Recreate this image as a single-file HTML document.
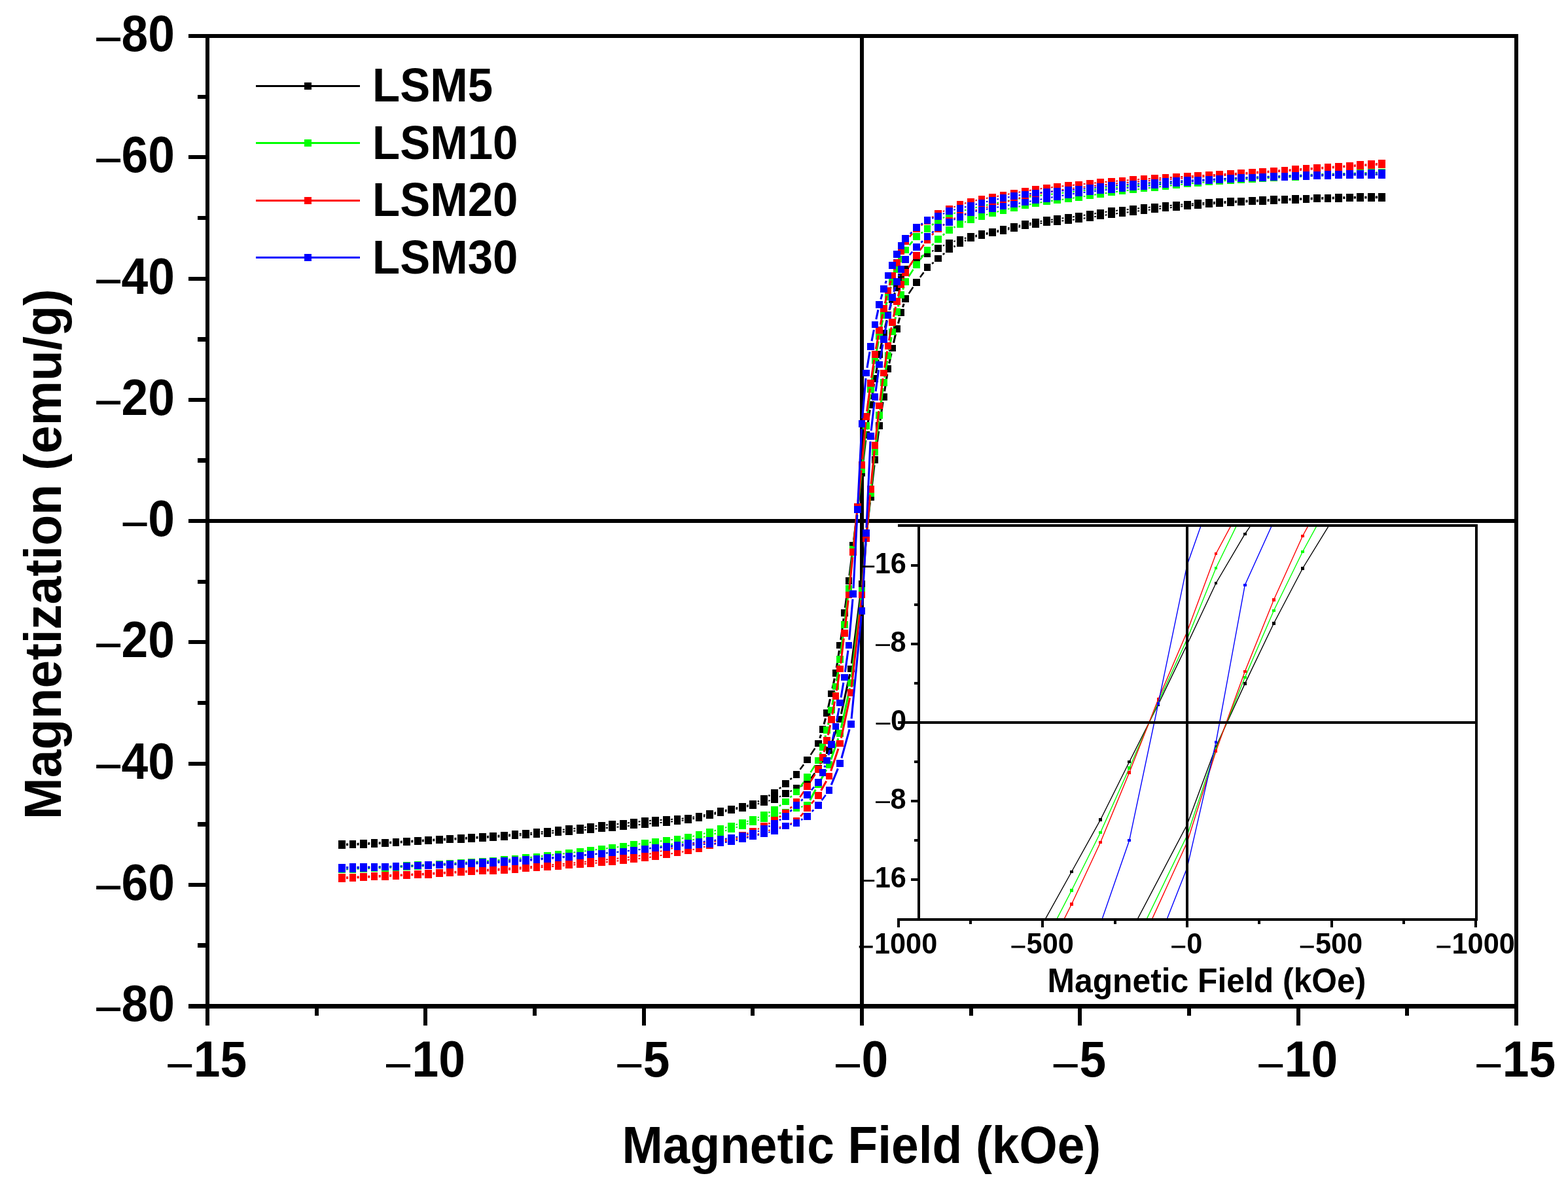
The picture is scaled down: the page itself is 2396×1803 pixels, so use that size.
<!DOCTYPE html>
<html><head><meta charset="utf-8"><title>Magnetization vs Magnetic Field</title><style>html,body{margin:0;padding:0;background:#fff;}</style></head><body>
<svg width="2396" height="1803" viewBox="0 0 2396 1803" style="display:block;font-family:'Liberation Sans', Arial, Helvetica, sans-serif">
<style>rect{shape-rendering:crispEdges}</style>
<rect width="2396" height="1803" fill="#fff"/>
<rect x="1314" y="52" width="6" height="1489" fill="#000"/>
<rect x="314" y="793" width="2006" height="6" fill="#000"/>
<rect x="288" y="52" width="2032" height="6" fill="#000"/>
<rect x="288" y="1534" width="2032" height="7" fill="#000"/>
<rect x="314" y="52" width="6" height="1515" fill="#000"/>
<rect x="2314" y="52" width="6" height="1515" fill="#000"/>
<rect x="288" y="1534.0" width="30" height="6" fill="#000"/>
<rect x="302" y="1441.4" width="16" height="6.5" fill="#000"/>
<rect x="288" y="1348.8" width="30" height="6" fill="#000"/>
<rect x="302" y="1256.1" width="16" height="6.5" fill="#000"/>
<rect x="288" y="1163.5" width="30" height="6" fill="#000"/>
<rect x="302" y="1070.9" width="16" height="6.5" fill="#000"/>
<rect x="288" y="978.2" width="30" height="6" fill="#000"/>
<rect x="302" y="885.6" width="16" height="6.5" fill="#000"/>
<rect x="288" y="793.0" width="30" height="6" fill="#000"/>
<rect x="302" y="700.4" width="16" height="6.5" fill="#000"/>
<rect x="288" y="607.8" width="30" height="6" fill="#000"/>
<rect x="302" y="515.1" width="16" height="6.5" fill="#000"/>
<rect x="288" y="422.5" width="30" height="6" fill="#000"/>
<rect x="302" y="329.9" width="16" height="6.5" fill="#000"/>
<rect x="288" y="237.2" width="30" height="6" fill="#000"/>
<rect x="302" y="144.6" width="16" height="6.5" fill="#000"/>
<rect x="288" y="52.0" width="30" height="6" fill="#000"/>
<rect x="314.0" y="1536" width="6" height="31" fill="#000"/>
<rect x="480.7" y="1536" width="6" height="16" fill="#000"/>
<rect x="647.3" y="1536" width="6" height="31" fill="#000"/>
<rect x="814.0" y="1536" width="6" height="16" fill="#000"/>
<rect x="980.7" y="1536" width="6" height="31" fill="#000"/>
<rect x="1147.3" y="1536" width="6" height="16" fill="#000"/>
<rect x="1314.0" y="1536" width="6" height="31" fill="#000"/>
<rect x="1480.7" y="1536" width="6" height="16" fill="#000"/>
<rect x="1647.3" y="1536" width="6" height="31" fill="#000"/>
<rect x="1814.0" y="1536" width="6" height="16" fill="#000"/>
<rect x="1980.7" y="1536" width="6" height="31" fill="#000"/>
<rect x="2147.3" y="1536" width="6" height="16" fill="#000"/>
<rect x="2314.0" y="1536" width="6" height="31" fill="#000"/>
<path d="M2105.1,300.5L2101.7,300.5M2088.5,300.7L2085.2,300.7M2072.0,300.9L2068.7,301.0M2055.4,301.2L2052.2,301.3M2038.9,301.6L2035.6,301.7M2022.4,302.1L2019.1,302.2M2005.8,302.6L2002.6,302.7M1989.3,303.2L1986.1,303.3M1972.7,303.8L1969.5,303.9M1956.2,304.4L1953.0,304.5M1939.7,305.1L1936.5,305.2M1923.1,305.8L1919.9,305.9M1906.6,306.5L1903.4,306.6M1890.1,307.3L1886.9,307.4M1873.5,308.1L1870.4,308.3M1857.0,309.0L1853.8,309.2M1840.4,310.0L1837.3,310.2M1823.9,311.2L1820.8,311.4M1807.3,312.4L1804.3,312.6M1790.8,313.7L1787.7,314.0M1774.3,315.1L1771.2,315.4M1757.7,316.6L1754.7,316.9M1741.2,318.2L1738.2,318.5M1724.6,319.9L1721.6,320.2M1708.1,321.6L1705.1,322.0M1691.5,323.6L1688.6,324.0M1675.0,326.0L1672.1,326.4M1658.4,328.6L1655.6,329.0M1641.9,331.0L1639.0,331.4M1625.4,333.2L1622.5,333.6M1608.9,335.4L1605.9,335.8M1592.3,337.8L1589.4,338.3M1575.7,340.7L1572.9,341.2M1559.2,344.2L1556.5,344.8M1542.6,348.0L1539.9,348.6M1526.1,351.9L1523.4,352.6M1509.6,355.7L1506.8,356.3M1493.0,359.4L1490.3,360.0M1476.4,363.5L1473.8,364.3M1459.9,368.2L1457.3,368.9M1443.2,374.4L1440.8,375.6M1426.6,382.7L1424.1,384.0M1409.9,390.7L1407.4,391.8M1143.7,1230.3L1141.0,1231.0M1127.2,1234.1L1124.4,1234.6M1110.6,1237.5L1107.9,1238.1M1094.1,1241.3L1091.4,1241.9M1077.6,1245.0L1074.8,1245.5M1061.1,1248.2L1058.2,1248.7M1044.7,1250.4L1041.6,1250.7M1028.2,1251.7L1025.0,1251.9M1011.6,1252.7L1008.5,1252.9M995.1,1253.8L992.0,1254.0M978.5,1255.2L975.5,1255.5M962.0,1257.0L959.0,1257.4M945.4,1258.9L942.4,1259.2M928.9,1260.3L925.9,1260.6M912.4,1261.9L909.4,1262.3M895.8,1263.8L892.8,1264.2M879.3,1265.7L876.3,1266.0M862.8,1267.5L859.8,1267.8M846.2,1269.2L843.2,1269.6M829.7,1270.9L826.7,1271.2M813.2,1272.4L810.1,1272.7M796.7,1273.8L793.6,1274.1M780.1,1275.2L777.1,1275.4M763.6,1276.5L760.5,1276.8M747.1,1277.7L744.0,1277.9M730.6,1278.7L727.4,1278.9M714.0,1279.7L710.9,1279.9M697.5,1280.7L694.4,1280.9M681.0,1281.6L677.8,1281.8M664.4,1282.5L661.3,1282.7M647.9,1283.5L644.8,1283.7M631.4,1284.6L628.2,1284.8M614.8,1285.6L611.7,1285.7M598.3,1286.5L595.1,1286.7M581.8,1287.3L578.6,1287.5M565.3,1288.1L562.1,1288.3M548.7,1288.8L545.5,1288.9M532.2,1289.4L529.0,1289.5M529.0,1291.3L532.2,1291.2M545.5,1290.7L548.7,1290.6M562.1,1290.0L565.3,1289.8M578.6,1289.2L581.8,1289.0M595.1,1288.3L598.3,1288.2M611.7,1287.4L614.8,1287.2M628.2,1286.4L631.4,1286.2M644.8,1285.4L647.9,1285.2M661.3,1284.4L664.4,1284.3M677.8,1283.6L681.0,1283.4M694.4,1282.6L697.5,1282.5M710.9,1281.7L714.0,1281.5M727.4,1280.8L730.6,1280.6M744.0,1279.8L747.1,1279.6M760.5,1278.7L763.6,1278.5M777.0,1277.6L780.1,1277.3M793.6,1276.4L796.7,1276.2M810.1,1275.3L813.2,1275.0M826.7,1274.0L829.7,1273.8M843.2,1272.7L846.3,1272.5M859.7,1271.3L862.8,1271.0M876.3,1269.8L879.3,1269.5M892.8,1268.2L895.8,1267.9M909.4,1266.6L912.4,1266.2M925.8,1265.1L929.0,1264.9M942.4,1263.8L945.5,1263.6M959.0,1262.2L962.0,1261.8M975.5,1260.2L978.5,1259.9M992.0,1258.5L995.1,1258.2M1008.5,1257.0L1011.6,1256.7M1025.1,1255.5L1028.1,1255.2M1041.6,1253.8L1044.6,1253.4M1058.3,1251.3L1061.1,1250.8M1074.8,1247.8L1077.5,1247.2M1091.4,1244.0L1094.1,1243.4M1107.9,1240.1L1110.6,1239.4M1124.4,1236.3L1127.2,1235.7M1141.0,1232.6L1143.7,1232.0M1157.6,1228.5L1160.2,1227.7M1174.1,1223.8L1176.7,1223.1M1190.8,1217.6L1193.2,1216.4M1207.4,1209.3L1209.9,1208.0M1224.1,1201.3L1226.6,1200.2M1490.3,361.7L1493.0,361.0M1506.8,357.9L1509.6,357.4M1523.4,354.5L1526.1,353.9M1539.9,350.7L1542.6,350.1M1556.4,347.0L1559.2,346.5M1572.9,343.8L1575.8,343.3M1589.4,341.3L1592.3,340.9M1605.9,339.3L1608.9,339.0M1622.4,337.6L1625.4,337.3M1639.0,335.9L1642.0,335.5M1655.6,333.7L1658.5,333.3M1672.1,331.2L1675.0,330.7M1688.6,328.7L1691.5,328.3M1705.1,326.5L1708.1,326.1M1721.6,324.5L1724.6,324.2M1738.2,322.6L1741.2,322.3M1754.7,320.7L1757.7,320.4M1771.2,318.9L1774.2,318.6M1787.8,317.2L1790.8,316.9M1804.3,315.6L1807.3,315.3M1820.8,314.0L1823.9,313.8M1837.3,312.6L1840.4,312.4M1853.8,311.4L1857.0,311.1M1870.4,310.3L1873.5,310.1M1886.9,309.3L1890.1,309.1M1903.4,308.5L1906.6,308.3M1919.9,307.7L1923.1,307.6M1936.5,307.0L1939.7,306.9M1953.0,306.3L1956.2,306.2M1969.5,305.6L1972.7,305.5M1986.1,305.0L1989.3,304.8M2002.6,304.4L2005.8,304.3M2019.1,303.8L2022.4,303.7M2035.6,303.4L2038.9,303.3M2052.2,303.0L2055.4,302.9M2068.7,302.7L2072.0,302.6M2085.2,302.5L2088.5,302.4M2101.7,302.3L2105.1,302.3" fill="none" stroke="#000000" stroke-width="2.0"/>
<path d="M1393.3,402.0L1390.7,404.6M1245.3,1143.4L1238.7,1153.4M1228.1,1168.3L1222.5,1175.8M1209.9,1189.1L1207.4,1191.1M1193.2,1203.0L1190.8,1205.0M1176.5,1215.0L1174.3,1216.2M1160.0,1223.8L1157.7,1225.0M1239.0,1189.6L1245.0,1181.3M1388.7,448.6L1395.3,438.6M1405.9,423.7L1411.5,416.2M1424.1,402.9L1426.6,400.9M1440.8,389.0L1443.2,387.0M1457.5,377.0L1459.7,375.8M1474.0,368.2L1476.3,367.0" fill="none" stroke="#000000" stroke-width="2.6"/>
<path d="M1367.5,447.3L1366.5,450.0M1361.4,465.9L1359.3,473.0M1355.1,489.2L1352.3,500.8M1348.7,517.0L1345.3,533.2M1342.2,549.4L1338.5,570.2M1335.6,586.5L1331.7,610.0M1329.2,626.3L1324.8,656.3M1322.7,672.6L1317.9,714.2M1316.0,730.5L1311.3,770.7M1309.3,787.0L1304.7,824.9M1302.7,841.2L1298.0,879.5M1295.9,895.9L1291.4,928.6M1289.2,945.0L1284.8,977.7M1282.4,994.0L1278.3,1020.3M1275.3,1036.6L1272.0,1051.9M1268.5,1068.1L1265.5,1081.5M1261.5,1097.7L1259.1,1106.6M1254.5,1122.6L1252.8,1127.9M1254.9,1166.3L1262.4,1153.7M1269.8,1138.2L1280.9,1106.8M1285.4,1090.8L1298.6,1030.1M1301.4,1013.8L1316.0,900.5M1317.7,884.1L1322.9,826.9M1324.6,810.5L1329.4,767.5M1331.3,751.2L1336.0,710.6M1338.0,694.3L1342.6,658.7M1344.9,642.4L1349.1,614.3M1351.6,598.0L1355.7,571.7M1358.7,555.4L1362.0,540.1M1365.5,523.9L1368.5,510.5M1372.5,494.3L1374.9,485.4M1379.5,469.4L1381.2,464.1" fill="none" stroke="#000000" stroke-width="3.1"/>
<g fill="#000000"><rect x="2106.3" y="295.1" width="10.8" height="10.8"/><rect x="2089.7" y="295.2" width="10.8" height="10.8"/><rect x="2073.2" y="295.4" width="10.8" height="10.8"/><rect x="2056.7" y="295.7" width="10.8" height="10.8"/><rect x="2040.1" y="296.0" width="10.8" height="10.8"/><rect x="2023.6" y="296.5" width="10.8" height="10.8"/><rect x="2007.1" y="297.0" width="10.8" height="10.8"/><rect x="1990.5" y="297.5" width="10.8" height="10.8"/><rect x="1974.0" y="298.1" width="10.8" height="10.8"/><rect x="1957.5" y="298.7" width="10.8" height="10.8"/><rect x="1940.9" y="299.4" width="10.8" height="10.8"/><rect x="1924.4" y="300.1" width="10.8" height="10.8"/><rect x="1907.9" y="300.8" width="10.8" height="10.8"/><rect x="1891.3" y="301.5" width="10.8" height="10.8"/><rect x="1874.8" y="302.3" width="10.8" height="10.8"/><rect x="1858.3" y="303.2" width="10.8" height="10.8"/><rect x="1841.7" y="304.2" width="10.8" height="10.8"/><rect x="1825.2" y="305.3" width="10.8" height="10.8"/><rect x="1808.7" y="306.5" width="10.8" height="10.8"/><rect x="1792.1" y="307.8" width="10.8" height="10.8"/><rect x="1775.6" y="309.1" width="10.8" height="10.8"/><rect x="1759.1" y="310.6" width="10.8" height="10.8"/><rect x="1742.5" y="312.2" width="10.8" height="10.8"/><rect x="1726.0" y="313.8" width="10.8" height="10.8"/><rect x="1709.5" y="315.5" width="10.8" height="10.8"/><rect x="1692.9" y="317.3" width="10.8" height="10.8"/><rect x="1676.4" y="319.5" width="10.8" height="10.8"/><rect x="1659.9" y="322.1" width="10.8" height="10.8"/><rect x="1643.3" y="324.7" width="10.8" height="10.8"/><rect x="1626.8" y="327.0" width="10.8" height="10.8"/><rect x="1610.3" y="329.1" width="10.8" height="10.8"/><rect x="1593.7" y="331.4" width="10.8" height="10.8"/><rect x="1577.2" y="334.0" width="10.8" height="10.8"/><rect x="1560.7" y="337.2" width="10.8" height="10.8"/><rect x="1544.1" y="340.9" width="10.8" height="10.8"/><rect x="1527.6" y="344.9" width="10.8" height="10.8"/><rect x="1511.1" y="348.8" width="10.8" height="10.8"/><rect x="1494.5" y="352.4" width="10.8" height="10.8"/><rect x="1478.0" y="356.2" width="10.8" height="10.8"/><rect x="1461.5" y="360.8" width="10.8" height="10.8"/><rect x="1444.9" y="365.5" width="10.8" height="10.8"/><rect x="1428.3" y="373.8" width="10.8" height="10.8"/><rect x="1411.6" y="382.1" width="10.8" height="10.8"/><rect x="1394.9" y="389.5" width="10.8" height="10.8"/><rect x="1378.3" y="406.2" width="10.8" height="10.8"/><rect x="1371.6" y="418.2" width="10.8" height="10.8"/><rect x="1364.9" y="434.0" width="10.8" height="10.8"/><rect x="1358.3" y="452.5" width="10.8" height="10.8"/><rect x="1351.6" y="475.7" width="10.8" height="10.8"/><rect x="1344.9" y="503.5" width="10.8" height="10.8"/><rect x="1338.3" y="535.9" width="10.8" height="10.8"/><rect x="1331.6" y="572.9" width="10.8" height="10.8"/><rect x="1324.9" y="612.8" width="10.8" height="10.8"/><rect x="1318.3" y="659.1" width="10.8" height="10.8"/><rect x="1311.6" y="717.0" width="10.8" height="10.8"/><rect x="1304.9" y="773.5" width="10.8" height="10.8"/><rect x="1298.3" y="827.6" width="10.8" height="10.8"/><rect x="1291.6" y="882.3" width="10.8" height="10.8"/><rect x="1284.9" y="931.4" width="10.8" height="10.8"/><rect x="1278.3" y="980.5" width="10.8" height="10.8"/><rect x="1271.6" y="1023.1" width="10.8" height="10.8"/><rect x="1264.9" y="1054.6" width="10.8" height="10.8"/><rect x="1258.3" y="1084.2" width="10.8" height="10.8"/><rect x="1251.6" y="1109.2" width="10.8" height="10.8"/><rect x="1244.9" y="1130.5" width="10.8" height="10.8"/><rect x="1228.3" y="1155.5" width="10.8" height="10.8"/><rect x="1211.6" y="1177.8" width="10.8" height="10.8"/><rect x="1194.9" y="1191.7" width="10.8" height="10.8"/><rect x="1178.3" y="1205.6" width="10.8" height="10.8"/><rect x="1161.7" y="1214.8" width="10.8" height="10.8"/><rect x="1145.2" y="1223.2" width="10.8" height="10.8"/><rect x="1128.7" y="1227.3" width="10.8" height="10.8"/><rect x="1112.1" y="1230.6" width="10.8" height="10.8"/><rect x="1095.6" y="1234.3" width="10.8" height="10.8"/><rect x="1079.1" y="1238.1" width="10.8" height="10.8"/><rect x="1062.5" y="1241.6" width="10.8" height="10.8"/><rect x="1046.0" y="1244.5" width="10.8" height="10.8"/><rect x="1029.5" y="1245.9" width="10.8" height="10.8"/><rect x="1012.9" y="1246.9" width="10.8" height="10.8"/><rect x="996.4" y="1247.9" width="10.8" height="10.8"/><rect x="979.9" y="1249.1" width="10.8" height="10.8"/><rect x="963.3" y="1250.8" width="10.8" height="10.8"/><rect x="946.8" y="1252.8" width="10.8" height="10.8"/><rect x="930.3" y="1254.4" width="10.8" height="10.8"/><rect x="913.7" y="1255.7" width="10.8" height="10.8"/><rect x="897.2" y="1257.7" width="10.8" height="10.8"/><rect x="880.7" y="1259.6" width="10.8" height="10.8"/><rect x="864.1" y="1261.4" width="10.8" height="10.8"/><rect x="847.6" y="1263.2" width="10.8" height="10.8"/><rect x="831.1" y="1264.8" width="10.8" height="10.8"/><rect x="814.5" y="1266.4" width="10.8" height="10.8"/><rect x="798.0" y="1267.9" width="10.8" height="10.8"/><rect x="781.5" y="1269.2" width="10.8" height="10.8"/><rect x="764.9" y="1270.6" width="10.8" height="10.8"/><rect x="748.4" y="1271.9" width="10.8" height="10.8"/><rect x="731.9" y="1272.9" width="10.8" height="10.8"/><rect x="715.3" y="1273.9" width="10.8" height="10.8"/><rect x="698.8" y="1274.9" width="10.8" height="10.8"/><rect x="682.3" y="1275.9" width="10.8" height="10.8"/><rect x="665.7" y="1276.8" width="10.8" height="10.8"/><rect x="649.2" y="1277.7" width="10.8" height="10.8"/><rect x="632.7" y="1278.8" width="10.8" height="10.8"/><rect x="616.1" y="1279.8" width="10.8" height="10.8"/><rect x="599.6" y="1280.7" width="10.8" height="10.8"/><rect x="583.1" y="1281.6" width="10.8" height="10.8"/><rect x="566.5" y="1282.4" width="10.8" height="10.8"/><rect x="550.0" y="1283.1" width="10.8" height="10.8"/><rect x="533.5" y="1283.8" width="10.8" height="10.8"/><rect x="516.9" y="1284.3" width="10.8" height="10.8"/><rect x="516.9" y="1286.1" width="10.8" height="10.8"/><rect x="533.5" y="1285.6" width="10.8" height="10.8"/><rect x="550.0" y="1284.9" width="10.8" height="10.8"/><rect x="566.5" y="1284.1" width="10.8" height="10.8"/><rect x="583.1" y="1283.3" width="10.8" height="10.8"/><rect x="599.6" y="1282.4" width="10.8" height="10.8"/><rect x="616.1" y="1281.4" width="10.8" height="10.8"/><rect x="632.7" y="1280.4" width="10.8" height="10.8"/><rect x="649.2" y="1279.4" width="10.8" height="10.8"/><rect x="665.7" y="1278.5" width="10.8" height="10.8"/><rect x="682.3" y="1277.6" width="10.8" height="10.8"/><rect x="698.8" y="1276.7" width="10.8" height="10.8"/><rect x="715.3" y="1275.8" width="10.8" height="10.8"/><rect x="731.9" y="1274.8" width="10.8" height="10.8"/><rect x="748.4" y="1273.8" width="10.8" height="10.8"/><rect x="764.9" y="1272.7" width="10.8" height="10.8"/><rect x="781.5" y="1271.4" width="10.8" height="10.8"/><rect x="798.0" y="1270.4" width="10.8" height="10.8"/><rect x="814.5" y="1269.2" width="10.8" height="10.8"/><rect x="831.1" y="1267.9" width="10.8" height="10.8"/><rect x="847.6" y="1266.5" width="10.8" height="10.8"/><rect x="864.1" y="1265.0" width="10.8" height="10.8"/><rect x="880.7" y="1263.5" width="10.8" height="10.8"/><rect x="897.2" y="1261.9" width="10.8" height="10.8"/><rect x="913.7" y="1260.1" width="10.8" height="10.8"/><rect x="930.3" y="1259.1" width="10.8" height="10.8"/><rect x="946.8" y="1257.5" width="10.8" height="10.8"/><rect x="963.3" y="1255.6" width="10.8" height="10.8"/><rect x="979.9" y="1253.7" width="10.8" height="10.8"/><rect x="996.4" y="1252.2" width="10.8" height="10.8"/><rect x="1012.9" y="1250.7" width="10.8" height="10.8"/><rect x="1029.5" y="1249.1" width="10.8" height="10.8"/><rect x="1046.0" y="1247.2" width="10.8" height="10.8"/><rect x="1062.5" y="1244.0" width="10.8" height="10.8"/><rect x="1079.1" y="1240.3" width="10.8" height="10.8"/><rect x="1095.6" y="1236.3" width="10.8" height="10.8"/><rect x="1112.1" y="1232.4" width="10.8" height="10.8"/><rect x="1128.7" y="1228.8" width="10.8" height="10.8"/><rect x="1145.2" y="1225.0" width="10.8" height="10.8"/><rect x="1161.7" y="1220.4" width="10.8" height="10.8"/><rect x="1178.3" y="1215.7" width="10.8" height="10.8"/><rect x="1194.9" y="1207.4" width="10.8" height="10.8"/><rect x="1211.6" y="1199.1" width="10.8" height="10.8"/><rect x="1228.3" y="1191.7" width="10.8" height="10.8"/><rect x="1244.9" y="1168.5" width="10.8" height="10.8"/><rect x="1261.6" y="1140.7" width="10.8" height="10.8"/><rect x="1278.3" y="1093.5" width="10.8" height="10.8"/><rect x="1294.9" y="1016.6" width="10.8" height="10.8"/><rect x="1311.6" y="886.9" width="10.8" height="10.8"/><rect x="1318.3" y="813.3" width="10.8" height="10.8"/><rect x="1324.9" y="753.9" width="10.8" height="10.8"/><rect x="1331.6" y="697.0" width="10.8" height="10.8"/><rect x="1338.3" y="645.2" width="10.8" height="10.8"/><rect x="1344.9" y="600.7" width="10.8" height="10.8"/><rect x="1351.6" y="558.1" width="10.8" height="10.8"/><rect x="1358.3" y="526.6" width="10.8" height="10.8"/><rect x="1364.9" y="497.0" width="10.8" height="10.8"/><rect x="1371.6" y="472.0" width="10.8" height="10.8"/><rect x="1378.3" y="450.7" width="10.8" height="10.8"/><rect x="1394.9" y="425.7" width="10.8" height="10.8"/><rect x="1411.6" y="403.4" width="10.8" height="10.8"/><rect x="1428.3" y="389.5" width="10.8" height="10.8"/><rect x="1444.9" y="375.6" width="10.8" height="10.8"/><rect x="1461.5" y="366.4" width="10.8" height="10.8"/><rect x="1478.0" y="358.0" width="10.8" height="10.8"/><rect x="1494.5" y="353.9" width="10.8" height="10.8"/><rect x="1511.1" y="350.6" width="10.8" height="10.8"/><rect x="1527.6" y="346.9" width="10.8" height="10.8"/><rect x="1544.1" y="343.1" width="10.8" height="10.8"/><rect x="1560.7" y="339.6" width="10.8" height="10.8"/><rect x="1577.2" y="336.7" width="10.8" height="10.8"/><rect x="1593.7" y="334.6" width="10.8" height="10.8"/><rect x="1610.3" y="332.9" width="10.8" height="10.8"/><rect x="1626.8" y="331.2" width="10.8" height="10.8"/><rect x="1643.3" y="329.3" width="10.8" height="10.8"/><rect x="1659.9" y="326.9" width="10.8" height="10.8"/><rect x="1676.4" y="324.3" width="10.8" height="10.8"/><rect x="1692.9" y="321.9" width="10.8" height="10.8"/><rect x="1709.5" y="319.9" width="10.8" height="10.8"/><rect x="1726.0" y="318.0" width="10.8" height="10.8"/><rect x="1742.5" y="316.1" width="10.8" height="10.8"/><rect x="1759.1" y="314.2" width="10.8" height="10.8"/><rect x="1775.6" y="312.5" width="10.8" height="10.8"/><rect x="1792.1" y="310.8" width="10.8" height="10.8"/><rect x="1808.7" y="309.2" width="10.8" height="10.8"/><rect x="1825.2" y="307.8" width="10.8" height="10.8"/><rect x="1841.7" y="306.4" width="10.8" height="10.8"/><rect x="1858.3" y="305.3" width="10.8" height="10.8"/><rect x="1874.8" y="304.2" width="10.8" height="10.8"/><rect x="1891.3" y="303.4" width="10.8" height="10.8"/><rect x="1907.9" y="302.6" width="10.8" height="10.8"/><rect x="1924.4" y="301.9" width="10.8" height="10.8"/><rect x="1940.9" y="301.2" width="10.8" height="10.8"/><rect x="1957.5" y="300.5" width="10.8" height="10.8"/><rect x="1974.0" y="299.8" width="10.8" height="10.8"/><rect x="1990.5" y="299.2" width="10.8" height="10.8"/><rect x="2007.1" y="298.6" width="10.8" height="10.8"/><rect x="2023.6" y="298.2" width="10.8" height="10.8"/><rect x="2040.1" y="297.7" width="10.8" height="10.8"/><rect x="2056.7" y="297.4" width="10.8" height="10.8"/><rect x="2073.2" y="297.1" width="10.8" height="10.8"/><rect x="2089.7" y="297.0" width="10.8" height="10.8"/><rect x="2106.3" y="296.9" width="10.8" height="10.8"/></g>
<path d="M2105.0,263.6L2101.8,263.6M2088.5,263.9L2085.2,264.0M2072.0,264.4L2068.7,264.5M2055.4,264.9L2052.2,265.0M2038.9,265.4L2035.7,265.5M2022.3,266.0L2019.1,266.2M2005.8,266.7L2002.6,266.8M1989.3,267.4L1986.1,267.5M1972.7,268.1L1969.5,268.2M1956.2,268.8L1953.0,269.0M1939.7,269.6L1936.5,269.8M1923.1,270.4L1919.9,270.6M1906.6,271.2L1903.4,271.4M1890.1,272.1L1886.9,272.3M1873.5,273.0L1870.4,273.2M1857.0,274.0L1853.8,274.2M1840.4,275.1L1837.3,275.3M1823.9,276.2L1820.8,276.4M1807.4,277.4L1804.3,277.6M1790.8,278.6L1787.7,278.9M1774.3,279.9L1771.2,280.2M1757.7,281.3L1754.7,281.6M1741.2,282.7L1738.1,283.0M1724.7,284.2L1721.6,284.4M1708.1,285.7L1705.1,285.9M1691.6,287.3L1688.6,287.6M1675.0,289.1L1672.0,289.4M1658.5,291.0L1655.5,291.3M1642.0,292.8L1639.0,293.2M1625.4,294.6L1622.4,294.9M1608.9,296.4L1605.9,296.7M1592.3,298.3L1589.4,298.7M1575.8,300.6L1572.9,301.0M1559.2,303.3L1556.4,303.8M1542.7,306.4L1539.9,306.9M1526.1,309.6L1523.4,310.2M1509.6,313.0L1506.8,313.6M1493.0,316.7L1490.3,317.4M1476.5,320.7L1473.8,321.4M1459.9,325.3L1457.3,326.1M1443.2,331.8L1440.8,333.0M1160.1,1248.4L1157.7,1249.4M1143.6,1254.4L1141.1,1255.2M1127.1,1259.4L1124.5,1260.0M1110.5,1264.0L1108.0,1264.8M1094.0,1268.8L1091.4,1269.5M1077.5,1273.2L1074.9,1273.9M1061.0,1277.3L1058.3,1277.9M1044.6,1280.5L1041.7,1281.0M1028.1,1282.9L1025.1,1283.3M1011.5,1285.0L1008.6,1285.3M995.0,1287.0L992.1,1287.4M978.4,1289.3L975.5,1289.7M961.9,1291.7L959.0,1292.2M945.4,1294.1L942.5,1294.5M928.9,1296.1L925.9,1296.5M912.3,1298.1L909.4,1298.5M895.8,1300.2L892.9,1300.6M879.3,1302.3L876.3,1302.6M862.8,1304.2L859.8,1304.6M846.2,1306.1L843.2,1306.5M829.7,1307.9L826.7,1308.3M813.2,1309.7L810.1,1310.0M796.7,1311.3L793.6,1311.5M780.1,1312.7L777.1,1313.0M763.6,1314.1L760.5,1314.3M747.1,1315.3L744.0,1315.5M730.6,1316.4L727.4,1316.6M714.0,1317.4L710.9,1317.6M697.5,1318.4L694.4,1318.6M681.0,1319.4L677.8,1319.6M664.4,1320.4L661.3,1320.5M647.9,1321.2L644.7,1321.4M631.4,1322.1L628.2,1322.3M614.9,1322.9L611.7,1323.0M598.3,1323.6L595.1,1323.7M581.8,1324.2L578.6,1324.4M565.3,1324.8L562.0,1324.9M548.8,1325.3L545.5,1325.3M532.2,1325.6L529.0,1325.7M529.0,1328.4L532.2,1328.3M545.5,1327.8L548.7,1327.7M562.1,1327.2L565.3,1327.1M578.6,1326.5L581.8,1326.4M595.1,1325.8L598.3,1325.7M611.7,1325.0L614.9,1324.9M628.2,1324.2L631.4,1324.0M644.7,1323.4L647.9,1323.2M661.3,1322.5L664.4,1322.3M677.8,1321.5L681.0,1321.4M694.4,1320.6L697.5,1320.4M710.9,1319.6L714.0,1319.4M727.4,1318.6L730.6,1318.4M744.0,1317.6L747.1,1317.4M760.5,1316.5L763.6,1316.3M777.0,1315.3L780.2,1315.1M793.6,1314.2L796.7,1313.9M810.1,1313.0L813.2,1312.8M826.6,1311.8L829.7,1311.6M843.2,1310.6L846.3,1310.4M859.7,1309.3L862.8,1309.0M876.3,1307.9L879.3,1307.7M892.8,1306.5L895.9,1306.3M909.3,1305.1L912.4,1304.8M925.9,1303.6L928.9,1303.3M942.4,1302.0L945.4,1301.6M959.0,1300.2L962.0,1299.8M975.5,1298.2L978.5,1297.9M992.1,1295.9L994.9,1295.4M1008.7,1293.0L1011.5,1292.5M1025.2,1290.1L1028.0,1289.6M1041.7,1287.0L1044.5,1286.4M1058.3,1283.3L1061.0,1282.6M1074.9,1279.0L1077.5,1278.3M1091.4,1274.3L1094.0,1273.5M1108.0,1269.4L1110.5,1268.6M1124.5,1264.4L1127.1,1263.6M1141.1,1259.1L1143.6,1258.2M1157.6,1253.4L1160.1,1252.6M1174.2,1247.2L1176.6,1246.3M1190.4,1242.6L1193.6,1242.3M1207.4,1238.8L1209.9,1237.8M1224.0,1233.1L1226.7,1232.3M1473.9,339.6L1476.3,338.6M1490.4,333.3L1492.9,332.5M1506.9,328.1L1509.5,327.4M1523.4,323.7L1526.1,323.0M1539.9,319.6L1542.6,318.9M1556.4,315.8L1559.2,315.2M1572.9,312.5L1575.7,311.9M1589.4,309.6L1592.3,309.1M1605.9,307.1L1608.9,306.7M1622.5,304.9L1625.4,304.5M1639.0,302.7L1641.9,302.3M1655.6,300.3L1658.4,299.9M1672.1,297.8L1675.0,297.3M1688.6,295.3L1691.5,294.9M1705.1,293.1L1708.1,292.8M1721.7,291.1L1724.6,290.8M1738.2,289.2L1741.2,288.8M1754.7,287.2L1757.7,286.9M1771.2,285.4L1774.2,285.0M1787.8,283.6L1790.8,283.3M1804.3,281.9L1807.3,281.6M1820.8,280.3L1823.9,280.0M1837.3,278.8L1840.4,278.5M1853.9,277.4L1856.9,277.2M1870.4,276.2L1873.5,276.0M1886.9,275.1L1890.0,274.9M1903.4,274.1L1906.6,274.0M1920.0,273.2L1923.1,273.1M1936.5,272.3L1939.7,272.2M1953.0,271.5L1956.2,271.3M1969.5,270.7L1972.7,270.5M1986.1,269.9L1989.3,269.7M2002.6,269.1L2005.8,269.0M2019.1,268.5L2022.3,268.3M2035.7,267.9L2038.9,267.8M2052.2,267.3L2055.4,267.2M2068.7,266.9L2072.0,266.8M2085.2,266.5L2088.5,266.5M2101.8,266.3L2105.1,266.3" fill="none" stroke="#00ff00" stroke-width="2.0"/>
<path d="M1426.5,342.1L1424.1,344.0M1409.9,354.7L1407.5,356.4M1394.4,368.9L1389.6,374.7M1245.5,1169.4L1238.5,1180.3M1228.1,1195.2L1222.5,1202.6M1209.9,1216.3L1207.4,1218.5M1193.2,1230.0L1190.8,1231.7M1176.5,1240.6L1174.3,1241.8M1388.5,422.6L1395.5,411.7M1405.9,396.8L1411.5,389.4M1424.0,374.9L1426.6,372.3M1440.8,359.4L1443.2,357.3M1457.5,347.6L1459.7,346.3" fill="none" stroke="#00ff00" stroke-width="2.6"/>
<path d="M1367.5,419.6L1366.5,422.2M1361.4,438.2L1359.3,445.3M1355.1,461.4L1352.3,473.0M1348.7,489.2L1345.3,505.4M1342.2,521.6L1338.5,542.4M1335.8,558.7L1331.6,585.9M1329.4,602.2L1324.6,641.9M1322.9,658.3L1317.8,709.1M1316.1,725.4L1311.3,768.4M1309.5,784.7L1304.5,830.7M1302.8,847.1L1297.9,891.6M1296.0,907.9L1291.3,946.2M1289.3,962.6L1284.7,999.0M1282.4,1015.3L1278.3,1040.7M1275.5,1057.0L1271.8,1076.9M1268.6,1093.1L1265.4,1107.5M1261.6,1123.6L1259.1,1133.4M1254.4,1149.5L1252.9,1153.9M1237.7,1222.7L1246.3,1206.6M1254.5,1191.2L1262.8,1176.0M1269.8,1160.4L1280.9,1128.2M1285.4,1112.1L1298.6,1051.4M1301.3,1035.1L1316.0,910.7M1317.7,894.3L1323.0,829.2M1324.5,812.8L1329.5,761.6M1331.2,745.2L1336.1,698.6M1338.0,682.2L1342.7,643.0M1344.8,626.7L1349.2,593.0M1351.6,576.7L1355.7,551.3M1358.5,535.0L1362.2,515.1M1365.4,498.9L1368.6,484.5M1372.4,468.4L1374.9,458.6M1379.6,442.5L1381.1,438.1" fill="none" stroke="#00ff00" stroke-width="3.1"/>
<g fill="#00ff00"><rect x="2106.3" y="258.0" width="10.8" height="10.8"/><rect x="2089.7" y="258.4" width="10.8" height="10.8"/><rect x="2073.2" y="258.8" width="10.8" height="10.8"/><rect x="2056.7" y="259.3" width="10.8" height="10.8"/><rect x="2040.1" y="259.8" width="10.8" height="10.8"/><rect x="2023.6" y="260.4" width="10.8" height="10.8"/><rect x="2007.1" y="261.0" width="10.8" height="10.8"/><rect x="1990.5" y="261.7" width="10.8" height="10.8"/><rect x="1974.0" y="262.4" width="10.8" height="10.8"/><rect x="1957.5" y="263.1" width="10.8" height="10.8"/><rect x="1940.9" y="263.9" width="10.8" height="10.8"/><rect x="1924.4" y="264.7" width="10.8" height="10.8"/><rect x="1907.9" y="265.5" width="10.8" height="10.8"/><rect x="1891.3" y="266.3" width="10.8" height="10.8"/><rect x="1874.8" y="267.2" width="10.8" height="10.8"/><rect x="1858.3" y="268.2" width="10.8" height="10.8"/><rect x="1841.7" y="269.2" width="10.8" height="10.8"/><rect x="1825.2" y="270.3" width="10.8" height="10.8"/><rect x="1808.7" y="271.5" width="10.8" height="10.8"/><rect x="1792.1" y="272.7" width="10.8" height="10.8"/><rect x="1775.6" y="274.0" width="10.8" height="10.8"/><rect x="1759.1" y="275.3" width="10.8" height="10.8"/><rect x="1742.5" y="276.7" width="10.8" height="10.8"/><rect x="1726.0" y="278.2" width="10.8" height="10.8"/><rect x="1709.5" y="279.6" width="10.8" height="10.8"/><rect x="1692.9" y="281.2" width="10.8" height="10.8"/><rect x="1676.4" y="282.9" width="10.8" height="10.8"/><rect x="1659.9" y="284.8" width="10.8" height="10.8"/><rect x="1643.3" y="286.7" width="10.8" height="10.8"/><rect x="1626.8" y="288.5" width="10.8" height="10.8"/><rect x="1610.3" y="290.2" width="10.8" height="10.8"/><rect x="1593.7" y="292.0" width="10.8" height="10.8"/><rect x="1577.2" y="294.1" width="10.8" height="10.8"/><rect x="1560.7" y="296.7" width="10.8" height="10.8"/><rect x="1544.1" y="299.6" width="10.8" height="10.8"/><rect x="1527.6" y="302.8" width="10.8" height="10.8"/><rect x="1511.1" y="306.2" width="10.8" height="10.8"/><rect x="1494.5" y="309.7" width="10.8" height="10.8"/><rect x="1478.0" y="313.6" width="10.8" height="10.8"/><rect x="1461.5" y="317.7" width="10.8" height="10.8"/><rect x="1444.9" y="322.8" width="10.8" height="10.8"/><rect x="1428.3" y="331.2" width="10.8" height="10.8"/><rect x="1411.6" y="344.1" width="10.8" height="10.8"/><rect x="1394.9" y="356.2" width="10.8" height="10.8"/><rect x="1378.3" y="376.6" width="10.8" height="10.8"/><rect x="1371.6" y="390.5" width="10.8" height="10.8"/><rect x="1364.9" y="406.2" width="10.8" height="10.8"/><rect x="1358.3" y="424.7" width="10.8" height="10.8"/><rect x="1351.6" y="447.9" width="10.8" height="10.8"/><rect x="1344.9" y="475.7" width="10.8" height="10.8"/><rect x="1338.3" y="508.1" width="10.8" height="10.8"/><rect x="1331.6" y="545.1" width="10.8" height="10.8"/><rect x="1324.9" y="588.7" width="10.8" height="10.8"/><rect x="1318.3" y="644.7" width="10.8" height="10.8"/><rect x="1311.6" y="711.9" width="10.8" height="10.8"/><rect x="1304.9" y="771.1" width="10.8" height="10.8"/><rect x="1298.3" y="833.5" width="10.8" height="10.8"/><rect x="1291.6" y="894.3" width="10.8" height="10.8"/><rect x="1284.9" y="949.0" width="10.8" height="10.8"/><rect x="1278.3" y="1001.8" width="10.8" height="10.8"/><rect x="1271.6" y="1043.5" width="10.8" height="10.8"/><rect x="1264.9" y="1079.6" width="10.8" height="10.8"/><rect x="1258.3" y="1110.2" width="10.8" height="10.8"/><rect x="1251.6" y="1136.1" width="10.8" height="10.8"/><rect x="1244.9" y="1156.5" width="10.8" height="10.8"/><rect x="1228.3" y="1182.4" width="10.8" height="10.8"/><rect x="1211.6" y="1204.6" width="10.8" height="10.8"/><rect x="1194.9" y="1219.5" width="10.8" height="10.8"/><rect x="1178.3" y="1231.5" width="10.8" height="10.8"/><rect x="1161.7" y="1240.2" width="10.8" height="10.8"/><rect x="1145.2" y="1246.8" width="10.8" height="10.8"/><rect x="1128.7" y="1252.1" width="10.8" height="10.8"/><rect x="1112.1" y="1256.5" width="10.8" height="10.8"/><rect x="1095.6" y="1261.4" width="10.8" height="10.8"/><rect x="1079.1" y="1266.1" width="10.8" height="10.8"/><rect x="1062.5" y="1270.3" width="10.8" height="10.8"/><rect x="1046.0" y="1274.1" width="10.8" height="10.8"/><rect x="1029.5" y="1276.6" width="10.8" height="10.8"/><rect x="1012.9" y="1278.7" width="10.8" height="10.8"/><rect x="996.4" y="1280.8" width="10.8" height="10.8"/><rect x="979.9" y="1282.9" width="10.8" height="10.8"/><rect x="963.3" y="1285.3" width="10.8" height="10.8"/><rect x="946.8" y="1287.8" width="10.8" height="10.8"/><rect x="930.3" y="1290.0" width="10.8" height="10.8"/><rect x="913.7" y="1291.9" width="10.8" height="10.8"/><rect x="897.2" y="1294.0" width="10.8" height="10.8"/><rect x="880.7" y="1296.0" width="10.8" height="10.8"/><rect x="864.1" y="1298.0" width="10.8" height="10.8"/><rect x="847.6" y="1300.0" width="10.8" height="10.8"/><rect x="831.1" y="1301.8" width="10.8" height="10.8"/><rect x="814.5" y="1303.6" width="10.8" height="10.8"/><rect x="798.0" y="1305.2" width="10.8" height="10.8"/><rect x="781.5" y="1306.8" width="10.8" height="10.8"/><rect x="764.9" y="1308.2" width="10.8" height="10.8"/><rect x="748.4" y="1309.5" width="10.8" height="10.8"/><rect x="731.9" y="1310.6" width="10.8" height="10.8"/><rect x="715.3" y="1311.6" width="10.8" height="10.8"/><rect x="698.8" y="1312.6" width="10.8" height="10.8"/><rect x="682.3" y="1313.6" width="10.8" height="10.8"/><rect x="665.7" y="1314.6" width="10.8" height="10.8"/><rect x="649.2" y="1315.5" width="10.8" height="10.8"/><rect x="632.7" y="1316.4" width="10.8" height="10.8"/><rect x="616.1" y="1317.2" width="10.8" height="10.8"/><rect x="599.6" y="1317.9" width="10.8" height="10.8"/><rect x="583.1" y="1318.6" width="10.8" height="10.8"/><rect x="566.5" y="1319.2" width="10.8" height="10.8"/><rect x="550.0" y="1319.7" width="10.8" height="10.8"/><rect x="533.5" y="1320.1" width="10.8" height="10.8"/><rect x="516.9" y="1320.4" width="10.8" height="10.8"/><rect x="516.9" y="1323.2" width="10.8" height="10.8"/><rect x="533.5" y="1322.7" width="10.8" height="10.8"/><rect x="550.0" y="1322.1" width="10.8" height="10.8"/><rect x="566.5" y="1321.4" width="10.8" height="10.8"/><rect x="583.1" y="1320.7" width="10.8" height="10.8"/><rect x="599.6" y="1319.9" width="10.8" height="10.8"/><rect x="616.1" y="1319.1" width="10.8" height="10.8"/><rect x="632.7" y="1318.3" width="10.8" height="10.8"/><rect x="649.2" y="1317.4" width="10.8" height="10.8"/><rect x="665.7" y="1316.5" width="10.8" height="10.8"/><rect x="682.3" y="1315.6" width="10.8" height="10.8"/><rect x="698.8" y="1314.6" width="10.8" height="10.8"/><rect x="715.3" y="1313.6" width="10.8" height="10.8"/><rect x="731.9" y="1312.6" width="10.8" height="10.8"/><rect x="748.4" y="1311.5" width="10.8" height="10.8"/><rect x="764.9" y="1310.4" width="10.8" height="10.8"/><rect x="781.5" y="1309.2" width="10.8" height="10.8"/><rect x="798.0" y="1308.1" width="10.8" height="10.8"/><rect x="814.5" y="1306.9" width="10.8" height="10.8"/><rect x="831.1" y="1305.7" width="10.8" height="10.8"/><rect x="847.6" y="1304.4" width="10.8" height="10.8"/><rect x="864.1" y="1303.1" width="10.8" height="10.8"/><rect x="880.7" y="1301.7" width="10.8" height="10.8"/><rect x="897.2" y="1300.3" width="10.8" height="10.8"/><rect x="913.7" y="1298.8" width="10.8" height="10.8"/><rect x="930.3" y="1297.3" width="10.8" height="10.8"/><rect x="946.8" y="1295.5" width="10.8" height="10.8"/><rect x="963.3" y="1293.6" width="10.8" height="10.8"/><rect x="979.9" y="1291.7" width="10.8" height="10.8"/><rect x="996.4" y="1288.8" width="10.8" height="10.8"/><rect x="1012.9" y="1285.9" width="10.8" height="10.8"/><rect x="1029.5" y="1282.9" width="10.8" height="10.8"/><rect x="1046.0" y="1279.7" width="10.8" height="10.8"/><rect x="1062.5" y="1275.5" width="10.8" height="10.8"/><rect x="1079.1" y="1270.9" width="10.8" height="10.8"/><rect x="1095.6" y="1266.1" width="10.8" height="10.8"/><rect x="1112.1" y="1261.1" width="10.8" height="10.8"/><rect x="1128.7" y="1256.0" width="10.8" height="10.8"/><rect x="1145.2" y="1250.5" width="10.8" height="10.8"/><rect x="1161.7" y="1244.7" width="10.8" height="10.8"/><rect x="1178.3" y="1238.0" width="10.8" height="10.8"/><rect x="1194.9" y="1236.1" width="10.8" height="10.8"/><rect x="1211.6" y="1229.6" width="10.8" height="10.8"/><rect x="1228.3" y="1225.0" width="10.8" height="10.8"/><rect x="1244.9" y="1193.5" width="10.8" height="10.8"/><rect x="1261.6" y="1163.0" width="10.8" height="10.8"/><rect x="1278.3" y="1114.8" width="10.8" height="10.8"/><rect x="1294.9" y="1037.9" width="10.8" height="10.8"/><rect x="1311.6" y="897.1" width="10.8" height="10.8"/><rect x="1318.3" y="815.6" width="10.8" height="10.8"/><rect x="1324.9" y="748.0" width="10.8" height="10.8"/><rect x="1331.6" y="685.0" width="10.8" height="10.8"/><rect x="1338.3" y="629.4" width="10.8" height="10.8"/><rect x="1344.9" y="579.4" width="10.8" height="10.8"/><rect x="1351.6" y="537.7" width="10.8" height="10.8"/><rect x="1358.3" y="501.6" width="10.8" height="10.8"/><rect x="1364.9" y="471.0" width="10.8" height="10.8"/><rect x="1371.6" y="445.1" width="10.8" height="10.8"/><rect x="1378.3" y="424.7" width="10.8" height="10.8"/><rect x="1394.9" y="398.8" width="10.8" height="10.8"/><rect x="1411.6" y="376.6" width="10.8" height="10.8"/><rect x="1428.3" y="359.9" width="10.8" height="10.8"/><rect x="1444.9" y="346.0" width="10.8" height="10.8"/><rect x="1461.5" y="337.1" width="10.8" height="10.8"/><rect x="1478.0" y="330.3" width="10.8" height="10.8"/><rect x="1494.5" y="324.7" width="10.8" height="10.8"/><rect x="1511.1" y="320.1" width="10.8" height="10.8"/><rect x="1527.6" y="315.8" width="10.8" height="10.8"/><rect x="1544.1" y="311.9" width="10.8" height="10.8"/><rect x="1560.7" y="308.3" width="10.8" height="10.8"/><rect x="1577.2" y="305.2" width="10.8" height="10.8"/><rect x="1593.7" y="302.6" width="10.8" height="10.8"/><rect x="1610.3" y="300.4" width="10.8" height="10.8"/><rect x="1626.8" y="298.2" width="10.8" height="10.8"/><rect x="1643.3" y="296.0" width="10.8" height="10.8"/><rect x="1659.9" y="293.5" width="10.8" height="10.8"/><rect x="1676.4" y="290.9" width="10.8" height="10.8"/><rect x="1692.9" y="288.6" width="10.8" height="10.8"/><rect x="1709.5" y="286.5" width="10.8" height="10.8"/><rect x="1726.0" y="284.6" width="10.8" height="10.8"/><rect x="1742.5" y="282.6" width="10.8" height="10.8"/><rect x="1759.1" y="280.7" width="10.8" height="10.8"/><rect x="1775.6" y="278.9" width="10.8" height="10.8"/><rect x="1792.1" y="277.2" width="10.8" height="10.8"/><rect x="1808.7" y="275.5" width="10.8" height="10.8"/><rect x="1825.2" y="274.0" width="10.8" height="10.8"/><rect x="1841.7" y="272.6" width="10.8" height="10.8"/><rect x="1858.3" y="271.3" width="10.8" height="10.8"/><rect x="1874.8" y="270.1" width="10.8" height="10.8"/><rect x="1891.3" y="269.1" width="10.8" height="10.8"/><rect x="1907.9" y="268.2" width="10.8" height="10.8"/><rect x="1924.4" y="267.3" width="10.8" height="10.8"/><rect x="1940.9" y="266.4" width="10.8" height="10.8"/><rect x="1957.5" y="265.6" width="10.8" height="10.8"/><rect x="1974.0" y="264.8" width="10.8" height="10.8"/><rect x="1990.5" y="264.0" width="10.8" height="10.8"/><rect x="2007.1" y="263.3" width="10.8" height="10.8"/><rect x="2023.6" y="262.7" width="10.8" height="10.8"/><rect x="2040.1" y="262.1" width="10.8" height="10.8"/><rect x="2056.7" y="261.7" width="10.8" height="10.8"/><rect x="2073.2" y="261.3" width="10.8" height="10.8"/><rect x="2089.7" y="261.0" width="10.8" height="10.8"/><rect x="2106.3" y="260.8" width="10.8" height="10.8"/></g>
<path d="M2105.0,250.0L2101.8,250.2M2088.4,251.2L2085.3,251.4M2071.9,252.3L2068.8,252.5M2055.4,253.5L2052.2,253.7M2038.8,254.6L2035.7,254.8M2022.3,255.8L2019.2,256.0M2005.8,256.9L2002.6,257.1M1989.2,258.1L1986.1,258.3M1972.7,259.2L1969.6,259.4M1956.2,260.3L1953.0,260.5M1939.6,261.4L1936.5,261.7M1923.1,262.6L1920.0,262.8M1906.6,263.7L1903.4,263.9M1890.0,264.8L1886.9,265.0M1873.5,265.8L1870.4,266.0M1857.0,266.9L1853.8,267.1M1840.4,267.9L1837.3,268.1M1823.9,268.9L1820.8,269.1M1807.4,269.9L1804.2,270.1M1790.8,270.9L1787.7,271.1M1774.3,272.0L1771.2,272.2M1757.8,273.0L1754.6,273.2M1741.2,274.1L1738.1,274.4M1724.7,275.3L1721.6,275.5M1708.1,276.5L1705.1,276.8M1691.6,277.9L1688.5,278.1M1675.1,279.4L1672.0,279.6M1658.5,281.0L1655.5,281.3M1642.0,282.6L1639.0,282.9M1625.4,284.3L1622.4,284.6M1608.9,286.1L1605.9,286.4M1592.3,288.1L1589.4,288.5M1575.8,290.4L1572.9,290.9M1559.2,293.2L1556.4,293.7M1542.7,296.3L1539.9,296.8M1526.1,299.5L1523.3,300.0M1509.6,302.6L1506.8,303.1M1493.0,305.8L1490.3,306.4M1476.4,310.0L1473.9,310.7M1459.8,315.5L1457.4,316.4M1443.2,322.1L1440.8,323.2M1160.0,1266.0L1157.7,1267.0M1143.5,1272.9L1141.1,1273.8M1127.0,1279.0L1124.6,1279.8M1110.7,1283.2L1107.8,1283.5M1094.2,1285.3L1091.3,1285.7M1077.7,1287.4L1074.7,1287.7M1061.2,1289.0L1058.1,1289.2M1044.4,1291.6L1041.8,1292.4M1027.9,1296.1L1025.3,1296.8M1011.4,1300.2L1008.7,1300.9M994.9,1304.2L992.2,1304.8M978.5,1307.3L975.5,1307.7M961.9,1309.5L959.0,1309.9M945.4,1311.5L942.4,1311.8M928.9,1313.3L925.9,1313.6M912.4,1315.0L909.3,1315.3M895.9,1316.6L892.8,1316.9M879.3,1318.2L876.3,1318.5M862.8,1319.7L859.7,1319.9M846.3,1321.1L843.2,1321.4M829.7,1322.5L826.7,1322.8M813.2,1323.9L810.1,1324.2M796.7,1325.3L793.6,1325.5M780.2,1326.5L777.0,1326.7M763.6,1327.5L760.5,1327.7M747.1,1328.5L744.0,1328.7M730.6,1329.6L727.4,1329.8M714.0,1330.7L710.9,1330.9M697.5,1331.7L694.4,1331.9M681.0,1332.8L677.8,1333.0M664.4,1333.8L661.3,1334.0M647.9,1334.8L644.7,1334.9M631.4,1335.6L628.2,1335.7M614.9,1336.4L611.7,1336.5M598.3,1337.1L595.1,1337.3M581.8,1337.9L578.6,1338.1M565.3,1338.7L562.1,1338.8M548.7,1339.4L545.5,1339.6M532.2,1340.2L529.0,1340.3M529.0,1342.2L532.2,1342.0M545.5,1341.3L548.7,1341.2M562.1,1340.5L565.3,1340.4M578.6,1339.7L581.8,1339.6M595.1,1338.9L598.3,1338.8M611.7,1338.1L614.9,1338.0M628.2,1337.3L631.4,1337.2M644.7,1336.5L647.9,1336.4M661.3,1335.6L664.4,1335.4M677.8,1334.6L681.0,1334.4M694.4,1333.6L697.5,1333.4M710.9,1332.6L714.0,1332.4M727.4,1331.6L730.6,1331.4M744.0,1330.6L747.1,1330.4M760.5,1329.7L763.6,1329.5M777.0,1328.8L780.2,1328.6M793.6,1327.7L796.7,1327.5M810.1,1326.5L813.2,1326.2M826.6,1325.2L829.7,1325.0M843.2,1324.0L846.3,1323.8M859.7,1322.7L862.8,1322.5M876.3,1321.4L879.3,1321.2M892.8,1320.1L895.9,1319.8M909.3,1318.7L912.4,1318.4M925.9,1317.2L928.9,1316.9M942.4,1315.6L945.4,1315.3M959.0,1313.9L962.0,1313.6M975.5,1312.1L978.5,1311.8M992.1,1309.9L995.0,1309.5M1008.6,1307.3L1011.5,1306.8M1025.2,1304.6L1028.0,1304.1M1041.7,1301.7L1044.5,1301.2M1058.3,1298.3L1061.0,1297.7M1074.9,1294.4L1077.5,1293.7M1091.4,1290.1L1094.0,1289.4M1108.0,1285.7L1110.6,1285.0M1124.4,1282.0L1127.2,1281.5M1141.0,1278.8L1143.7,1278.2M1157.6,1274.6L1160.1,1273.9M1174.2,1269.1L1176.6,1268.2M1190.6,1264.1L1193.4,1263.4M1207.4,1258.8L1209.9,1257.6M1457.4,334.1L1459.8,333.0M1473.9,327.1L1476.4,326.2M1490.4,321.5L1492.9,320.8M1506.9,316.9L1509.5,316.2M1523.4,312.4L1526.0,311.6M1540.0,307.7L1542.6,306.9M1556.5,303.0L1559.1,302.3M1573.0,298.9L1575.7,298.3M1589.5,295.5L1592.3,295.0M1606.0,292.7L1608.8,292.2M1622.5,290.1L1625.4,289.7M1639.0,287.8L1641.9,287.5M1655.5,285.7L1658.5,285.4M1672.0,283.8L1675.0,283.4M1688.6,282.0L1691.6,281.7M1705.1,280.4L1708.1,280.1M1721.6,278.9L1724.7,278.7M1738.1,277.5L1741.2,277.3M1754.7,276.2L1757.7,276.0M1771.2,275.0L1774.3,274.7M1787.7,273.8L1790.8,273.5M1804.2,272.6L1807.4,272.4M1820.8,271.4L1823.9,271.2M1837.3,270.3L1840.4,270.1M1853.8,269.2L1857.0,269.0M1870.4,268.0L1873.5,267.8M1886.9,266.9L1890.0,266.7M1903.4,265.7L1906.6,265.5M1920.0,264.5L1923.1,264.3M1936.5,263.4L1939.6,263.1M1953.0,262.2L1956.2,262.0M1969.6,261.0L1972.7,260.8M1986.1,259.9L1989.2,259.7M2002.6,258.7L2005.8,258.5M2019.2,257.6L2022.3,257.4M2035.7,256.5L2038.8,256.2M2052.2,255.3L2055.4,255.1M2068.8,254.2L2071.9,254.0M2085.3,253.1L2088.4,252.9M2101.8,252.0L2105.0,251.8" fill="none" stroke="#ff0000" stroke-width="2.0"/>
<path d="M1426.5,331.2L1424.1,332.7M1409.9,342.7L1407.5,344.4M1394.1,356.8L1389.9,361.8M1245.5,1183.3L1238.5,1194.2M1228.5,1209.2L1222.2,1218.3M1209.9,1232.6L1207.4,1235.1M1193.2,1246.9L1190.8,1248.6M1176.5,1257.5L1174.3,1258.8M1223.2,1247.3L1227.5,1242.3M1239.9,1227.8L1244.1,1222.8M1388.5,408.7L1395.5,397.8M1405.5,382.8L1411.8,373.7M1424.0,359.2L1426.6,356.6M1440.8,344.4L1443.2,342.7" fill="none" stroke="#ff0000" stroke-width="2.6"/>
<path d="M1374.0,391.7L1373.3,393.5M1367.6,409.4L1366.4,412.9M1361.4,428.9L1359.3,436.0M1355.1,452.1L1352.3,463.7M1348.7,479.9L1345.3,496.1M1342.2,512.4L1338.5,533.2M1335.8,549.4L1331.6,577.6M1329.3,593.9L1324.7,628.5M1322.9,644.9L1317.7,702.1M1316.1,718.5L1311.2,765.9M1309.5,782.2L1304.5,835.0M1302.8,851.3L1297.8,900.8M1296.1,917.2L1291.3,959.2M1289.3,975.5L1284.7,1013.8M1282.4,1030.2L1278.3,1055.5M1275.5,1071.8L1271.8,1091.7M1268.6,1107.9L1265.4,1123.2M1261.6,1139.4L1259.1,1149.2M1254.1,1165.2L1253.2,1167.8M1254.6,1207.9L1262.7,1193.6M1269.7,1178.0L1281.0,1143.9M1285.4,1127.8L1298.6,1066.2M1301.2,1050.0L1316.1,917.2M1317.6,900.8L1323.0,831.0M1324.4,814.7L1329.6,756.0M1331.1,739.7L1336.2,688.4M1337.9,672.0L1342.8,628.2M1344.8,611.9L1349.2,578.2M1351.6,561.8L1355.7,536.5M1358.5,520.2L1362.2,500.3M1365.4,484.1L1368.6,468.8M1372.4,452.6L1374.9,442.8M1379.9,426.8L1380.8,424.2" fill="none" stroke="#ff0000" stroke-width="3.1"/>
<g fill="#ff0000"><rect x="2106.3" y="244.1" width="10.8" height="10.8"/><rect x="2089.7" y="245.3" width="10.8" height="10.8"/><rect x="2073.2" y="246.4" width="10.8" height="10.8"/><rect x="2056.7" y="247.6" width="10.8" height="10.8"/><rect x="2040.1" y="248.8" width="10.8" height="10.8"/><rect x="2023.6" y="249.9" width="10.8" height="10.8"/><rect x="2007.1" y="251.1" width="10.8" height="10.8"/><rect x="1990.5" y="252.2" width="10.8" height="10.8"/><rect x="1974.0" y="253.3" width="10.8" height="10.8"/><rect x="1957.5" y="254.5" width="10.8" height="10.8"/><rect x="1940.9" y="255.6" width="10.8" height="10.8"/><rect x="1924.4" y="256.7" width="10.8" height="10.8"/><rect x="1907.9" y="257.8" width="10.8" height="10.8"/><rect x="1891.3" y="258.9" width="10.8" height="10.8"/><rect x="1874.8" y="260.0" width="10.8" height="10.8"/><rect x="1858.3" y="261.1" width="10.8" height="10.8"/><rect x="1841.7" y="262.1" width="10.8" height="10.8"/><rect x="1825.2" y="263.1" width="10.8" height="10.8"/><rect x="1808.7" y="264.1" width="10.8" height="10.8"/><rect x="1792.1" y="265.1" width="10.8" height="10.8"/><rect x="1775.6" y="266.1" width="10.8" height="10.8"/><rect x="1759.1" y="267.2" width="10.8" height="10.8"/><rect x="1742.5" y="268.3" width="10.8" height="10.8"/><rect x="1726.0" y="269.4" width="10.8" height="10.8"/><rect x="1709.5" y="270.6" width="10.8" height="10.8"/><rect x="1692.9" y="271.9" width="10.8" height="10.8"/><rect x="1676.4" y="273.3" width="10.8" height="10.8"/><rect x="1659.9" y="274.9" width="10.8" height="10.8"/><rect x="1643.3" y="276.5" width="10.8" height="10.8"/><rect x="1626.8" y="278.2" width="10.8" height="10.8"/><rect x="1610.3" y="279.9" width="10.8" height="10.8"/><rect x="1593.7" y="281.8" width="10.8" height="10.8"/><rect x="1577.2" y="283.9" width="10.8" height="10.8"/><rect x="1560.7" y="286.5" width="10.8" height="10.8"/><rect x="1544.1" y="289.5" width="10.8" height="10.8"/><rect x="1527.6" y="292.8" width="10.8" height="10.8"/><rect x="1511.1" y="296.0" width="10.8" height="10.8"/><rect x="1494.5" y="299.0" width="10.8" height="10.8"/><rect x="1478.0" y="302.5" width="10.8" height="10.8"/><rect x="1461.5" y="307.4" width="10.8" height="10.8"/><rect x="1444.9" y="313.6" width="10.8" height="10.8"/><rect x="1428.3" y="321.0" width="10.8" height="10.8"/><rect x="1411.6" y="332.1" width="10.8" height="10.8"/><rect x="1394.9" y="344.1" width="10.8" height="10.8"/><rect x="1378.3" y="363.6" width="10.8" height="10.8"/><rect x="1371.6" y="378.4" width="10.8" height="10.8"/><rect x="1364.9" y="396.0" width="10.8" height="10.8"/><rect x="1358.3" y="415.5" width="10.8" height="10.8"/><rect x="1351.6" y="438.6" width="10.8" height="10.8"/><rect x="1344.9" y="466.4" width="10.8" height="10.8"/><rect x="1338.3" y="498.8" width="10.8" height="10.8"/><rect x="1331.6" y="535.9" width="10.8" height="10.8"/><rect x="1324.9" y="580.3" width="10.8" height="10.8"/><rect x="1318.3" y="631.3" width="10.8" height="10.8"/><rect x="1311.6" y="704.9" width="10.8" height="10.8"/><rect x="1304.9" y="768.6" width="10.8" height="10.8"/><rect x="1298.3" y="837.7" width="10.8" height="10.8"/><rect x="1291.6" y="903.6" width="10.8" height="10.8"/><rect x="1284.9" y="962.0" width="10.8" height="10.8"/><rect x="1278.3" y="1016.6" width="10.8" height="10.8"/><rect x="1271.6" y="1058.3" width="10.8" height="10.8"/><rect x="1264.9" y="1094.4" width="10.8" height="10.8"/><rect x="1258.3" y="1125.9" width="10.8" height="10.8"/><rect x="1251.6" y="1151.8" width="10.8" height="10.8"/><rect x="1244.9" y="1170.4" width="10.8" height="10.8"/><rect x="1228.3" y="1196.3" width="10.8" height="10.8"/><rect x="1211.6" y="1220.4" width="10.8" height="10.8"/><rect x="1194.9" y="1236.6" width="10.8" height="10.8"/><rect x="1178.3" y="1248.2" width="10.8" height="10.8"/><rect x="1161.7" y="1257.4" width="10.8" height="10.8"/><rect x="1145.2" y="1264.8" width="10.8" height="10.8"/><rect x="1128.7" y="1271.1" width="10.8" height="10.8"/><rect x="1112.1" y="1276.9" width="10.8" height="10.8"/><rect x="1095.6" y="1279.0" width="10.8" height="10.8"/><rect x="1079.1" y="1281.2" width="10.8" height="10.8"/><rect x="1062.5" y="1283.1" width="10.8" height="10.8"/><rect x="1046.0" y="1284.3" width="10.8" height="10.8"/><rect x="1029.5" y="1288.9" width="10.8" height="10.8"/><rect x="1012.9" y="1293.2" width="10.8" height="10.8"/><rect x="996.4" y="1297.2" width="10.8" height="10.8"/><rect x="979.9" y="1301.0" width="10.8" height="10.8"/><rect x="963.3" y="1303.2" width="10.8" height="10.8"/><rect x="946.8" y="1305.3" width="10.8" height="10.8"/><rect x="930.3" y="1307.2" width="10.8" height="10.8"/><rect x="913.7" y="1308.9" width="10.8" height="10.8"/><rect x="897.2" y="1310.6" width="10.8" height="10.8"/><rect x="880.7" y="1312.2" width="10.8" height="10.8"/><rect x="864.1" y="1313.7" width="10.8" height="10.8"/><rect x="847.6" y="1315.1" width="10.8" height="10.8"/><rect x="831.1" y="1316.6" width="10.8" height="10.8"/><rect x="814.5" y="1317.9" width="10.8" height="10.8"/><rect x="798.0" y="1319.3" width="10.8" height="10.8"/><rect x="781.5" y="1320.7" width="10.8" height="10.8"/><rect x="764.9" y="1321.7" width="10.8" height="10.8"/><rect x="748.4" y="1322.7" width="10.8" height="10.8"/><rect x="731.9" y="1323.8" width="10.8" height="10.8"/><rect x="715.3" y="1324.8" width="10.8" height="10.8"/><rect x="698.8" y="1325.9" width="10.8" height="10.8"/><rect x="682.3" y="1327.0" width="10.8" height="10.8"/><rect x="665.7" y="1328.0" width="10.8" height="10.8"/><rect x="649.2" y="1329.0" width="10.8" height="10.8"/><rect x="632.7" y="1329.8" width="10.8" height="10.8"/><rect x="616.1" y="1330.6" width="10.8" height="10.8"/><rect x="599.6" y="1331.4" width="10.8" height="10.8"/><rect x="583.1" y="1332.2" width="10.8" height="10.8"/><rect x="566.5" y="1333.0" width="10.8" height="10.8"/><rect x="550.0" y="1333.7" width="10.8" height="10.8"/><rect x="533.5" y="1334.5" width="10.8" height="10.8"/><rect x="516.9" y="1335.2" width="10.8" height="10.8"/><rect x="516.9" y="1337.1" width="10.8" height="10.8"/><rect x="533.5" y="1336.3" width="10.8" height="10.8"/><rect x="550.0" y="1335.4" width="10.8" height="10.8"/><rect x="566.5" y="1334.6" width="10.8" height="10.8"/><rect x="583.1" y="1333.8" width="10.8" height="10.8"/><rect x="599.6" y="1333.0" width="10.8" height="10.8"/><rect x="616.1" y="1332.2" width="10.8" height="10.8"/><rect x="632.7" y="1331.4" width="10.8" height="10.8"/><rect x="649.2" y="1330.7" width="10.8" height="10.8"/><rect x="665.7" y="1329.6" width="10.8" height="10.8"/><rect x="682.3" y="1328.6" width="10.8" height="10.8"/><rect x="698.8" y="1327.6" width="10.8" height="10.8"/><rect x="715.3" y="1326.6" width="10.8" height="10.8"/><rect x="731.9" y="1325.6" width="10.8" height="10.8"/><rect x="748.4" y="1324.7" width="10.8" height="10.8"/><rect x="764.9" y="1323.7" width="10.8" height="10.8"/><rect x="781.5" y="1322.8" width="10.8" height="10.8"/><rect x="798.0" y="1321.6" width="10.8" height="10.8"/><rect x="814.5" y="1320.3" width="10.8" height="10.8"/><rect x="831.1" y="1319.1" width="10.8" height="10.8"/><rect x="847.6" y="1317.9" width="10.8" height="10.8"/><rect x="864.1" y="1316.6" width="10.8" height="10.8"/><rect x="880.7" y="1315.2" width="10.8" height="10.8"/><rect x="897.2" y="1313.9" width="10.8" height="10.8"/><rect x="913.7" y="1312.4" width="10.8" height="10.8"/><rect x="930.3" y="1310.9" width="10.8" height="10.8"/><rect x="946.8" y="1309.3" width="10.8" height="10.8"/><rect x="963.3" y="1307.5" width="10.8" height="10.8"/><rect x="979.9" y="1305.6" width="10.8" height="10.8"/><rect x="996.4" y="1303.0" width="10.8" height="10.8"/><rect x="1012.9" y="1300.3" width="10.8" height="10.8"/><rect x="1029.5" y="1297.5" width="10.8" height="10.8"/><rect x="1046.0" y="1294.5" width="10.8" height="10.8"/><rect x="1062.5" y="1290.7" width="10.8" height="10.8"/><rect x="1079.1" y="1286.6" width="10.8" height="10.8"/><rect x="1095.6" y="1282.2" width="10.8" height="10.8"/><rect x="1112.1" y="1277.8" width="10.8" height="10.8"/><rect x="1128.7" y="1274.8" width="10.8" height="10.8"/><rect x="1145.2" y="1271.3" width="10.8" height="10.8"/><rect x="1161.7" y="1266.4" width="10.8" height="10.8"/><rect x="1178.3" y="1260.2" width="10.8" height="10.8"/><rect x="1194.9" y="1256.5" width="10.8" height="10.8"/><rect x="1211.6" y="1249.1" width="10.8" height="10.8"/><rect x="1228.3" y="1229.6" width="10.8" height="10.8"/><rect x="1244.9" y="1210.2" width="10.8" height="10.8"/><rect x="1261.6" y="1180.6" width="10.8" height="10.8"/><rect x="1278.3" y="1130.5" width="10.8" height="10.8"/><rect x="1294.9" y="1052.7" width="10.8" height="10.8"/><rect x="1311.6" y="903.6" width="10.8" height="10.8"/><rect x="1318.3" y="817.5" width="10.8" height="10.8"/><rect x="1324.9" y="742.4" width="10.8" height="10.8"/><rect x="1331.6" y="674.8" width="10.8" height="10.8"/><rect x="1338.3" y="614.6" width="10.8" height="10.8"/><rect x="1344.9" y="564.6" width="10.8" height="10.8"/><rect x="1351.6" y="522.9" width="10.8" height="10.8"/><rect x="1358.3" y="486.8" width="10.8" height="10.8"/><rect x="1364.9" y="455.3" width="10.8" height="10.8"/><rect x="1371.6" y="429.4" width="10.8" height="10.8"/><rect x="1378.3" y="410.8" width="10.8" height="10.8"/><rect x="1394.9" y="384.9" width="10.8" height="10.8"/><rect x="1411.6" y="360.8" width="10.8" height="10.8"/><rect x="1428.3" y="344.1" width="10.8" height="10.8"/><rect x="1444.9" y="332.1" width="10.8" height="10.8"/><rect x="1461.5" y="324.3" width="10.8" height="10.8"/><rect x="1478.0" y="318.2" width="10.8" height="10.8"/><rect x="1494.5" y="313.3" width="10.8" height="10.8"/><rect x="1511.1" y="309.0" width="10.8" height="10.8"/><rect x="1527.6" y="304.3" width="10.8" height="10.8"/><rect x="1544.1" y="299.5" width="10.8" height="10.8"/><rect x="1560.7" y="295.1" width="10.8" height="10.8"/><rect x="1577.2" y="291.4" width="10.8" height="10.8"/><rect x="1593.7" y="288.3" width="10.8" height="10.8"/><rect x="1610.3" y="285.7" width="10.8" height="10.8"/><rect x="1626.8" y="283.3" width="10.8" height="10.8"/><rect x="1643.3" y="281.2" width="10.8" height="10.8"/><rect x="1659.9" y="279.1" width="10.8" height="10.8"/><rect x="1676.4" y="277.3" width="10.8" height="10.8"/><rect x="1692.9" y="275.6" width="10.8" height="10.8"/><rect x="1709.5" y="274.1" width="10.8" height="10.8"/><rect x="1726.0" y="272.7" width="10.8" height="10.8"/><rect x="1742.5" y="271.4" width="10.8" height="10.8"/><rect x="1759.1" y="270.1" width="10.8" height="10.8"/><rect x="1775.6" y="268.8" width="10.8" height="10.8"/><rect x="1792.1" y="267.7" width="10.8" height="10.8"/><rect x="1808.7" y="266.5" width="10.8" height="10.8"/><rect x="1825.2" y="265.4" width="10.8" height="10.8"/><rect x="1841.7" y="264.2" width="10.8" height="10.8"/><rect x="1858.3" y="263.1" width="10.8" height="10.8"/><rect x="1874.8" y="262.0" width="10.8" height="10.8"/><rect x="1891.3" y="260.8" width="10.8" height="10.8"/><rect x="1907.9" y="259.6" width="10.8" height="10.8"/><rect x="1924.4" y="258.4" width="10.8" height="10.8"/><rect x="1940.9" y="257.3" width="10.8" height="10.8"/><rect x="1957.5" y="256.1" width="10.8" height="10.8"/><rect x="1974.0" y="254.9" width="10.8" height="10.8"/><rect x="1990.5" y="253.8" width="10.8" height="10.8"/><rect x="2007.1" y="252.7" width="10.8" height="10.8"/><rect x="2023.6" y="251.5" width="10.8" height="10.8"/><rect x="2040.1" y="250.4" width="10.8" height="10.8"/><rect x="2056.7" y="249.3" width="10.8" height="10.8"/><rect x="2073.2" y="248.2" width="10.8" height="10.8"/><rect x="2089.7" y="247.1" width="10.8" height="10.8"/><rect x="2106.3" y="246.0" width="10.8" height="10.8"/></g>
<path d="M2105.0,264.5L2101.8,264.6M2088.5,264.9L2085.2,264.9M2072.0,265.3L2068.7,265.4M2055.4,265.8L2052.2,265.8M2038.9,266.3L2035.7,266.4M2022.4,266.8L2019.1,266.9M2005.8,267.4L2002.6,267.5M1989.3,268.0L1986.1,268.1M1972.7,268.6L1969.5,268.7M1956.2,269.2L1953.0,269.4M1939.7,269.9L1936.5,270.0M1923.1,270.6L1919.9,270.7M1906.6,271.3L1903.4,271.5M1890.1,272.0L1886.9,272.2M1873.5,272.8L1870.3,272.9M1857.0,273.6L1853.8,273.7M1840.5,274.4L1837.3,274.6M1823.9,275.3L1820.8,275.5M1807.4,276.2L1804.2,276.4M1790.8,277.2L1787.7,277.4M1774.3,278.2L1771.2,278.4M1757.8,279.3L1754.6,279.5M1741.2,280.5L1738.1,280.7M1724.7,281.7L1721.6,281.9M1708.1,283.0L1705.1,283.2M1691.6,284.5L1688.6,284.8M1675.0,286.3L1672.1,286.7M1658.5,288.3L1655.5,288.6M1642.0,289.9L1638.9,290.2M1625.5,291.3L1622.4,291.5M1608.9,292.5L1605.9,292.8M1592.4,293.9L1589.4,294.2M1575.8,295.8L1572.9,296.2M1559.2,298.1L1556.4,298.6M1542.7,300.9L1539.9,301.4M1526.1,304.1L1523.4,304.6M1509.5,307.7L1506.9,308.3M1493.0,311.8L1490.4,312.5M1476.5,316.0L1473.8,316.6M1459.9,320.1L1457.3,320.8M1443.2,325.8L1440.8,326.9M1426.6,332.8L1424.1,333.8M1160.1,1269.6L1157.7,1270.6M1143.7,1275.1L1141.0,1275.7M1127.2,1278.6L1124.4,1279.1M1110.7,1281.3L1107.8,1281.7M1094.2,1283.5L1091.3,1283.9M1077.7,1285.6L1074.7,1285.9M1061.2,1287.6L1058.2,1287.9M1044.6,1289.7L1041.7,1290.1M1028.1,1291.9L1025.1,1292.3M1011.5,1294.1L1008.6,1294.5M995.0,1296.1L992.0,1296.4M978.5,1297.9L975.5,1298.3M962.0,1299.9L959.0,1300.2M945.4,1301.7L942.4,1302.0M928.9,1303.3L925.9,1303.6M912.4,1305.0L909.4,1305.3M895.8,1306.7L892.8,1307.0M879.3,1308.3L876.3,1308.6M862.8,1310.0L859.7,1310.3M846.3,1311.5L843.2,1311.8M829.7,1313.1L826.7,1313.3M813.2,1314.5L810.1,1314.7M796.7,1315.8L793.6,1316.0M780.2,1317.0L777.0,1317.2M763.6,1318.0L760.5,1318.2M747.1,1318.9L743.9,1319.0M730.6,1319.6L727.4,1319.7M714.1,1320.2L710.9,1320.4M697.5,1320.9L694.3,1321.0M681.0,1321.5L677.8,1321.6M664.5,1322.1L661.3,1322.2M647.9,1322.6L644.7,1322.7M631.4,1323.1L628.2,1323.2M614.9,1323.6L611.6,1323.7M598.4,1324.0L595.1,1324.1M581.8,1324.3L578.6,1324.4M565.3,1324.6L562.0,1324.6M548.8,1324.8L545.5,1324.8M532.3,1324.9L528.9,1324.9M529.0,1327.4L532.2,1327.3M545.5,1326.8L548.7,1326.7M562.1,1326.2L565.3,1326.0M578.6,1325.5L581.8,1325.3M595.1,1324.7L598.3,1324.6M611.7,1324.0L614.9,1323.8M628.2,1323.2L631.4,1323.0M644.7,1322.3L647.9,1322.2M661.3,1321.5L664.4,1321.3M677.8,1320.6L681.0,1320.4M694.4,1319.7L697.5,1319.5M710.9,1318.8L714.0,1318.6M727.4,1317.8L730.6,1317.6M744.0,1316.9L747.1,1316.7M760.5,1315.9L763.6,1315.7M777.0,1314.8L780.2,1314.6M793.6,1313.8L796.7,1313.6M810.1,1312.7L813.2,1312.5M826.6,1311.5L829.8,1311.3M843.2,1310.3L846.3,1310.1M859.7,1309.1L862.8,1308.8M876.3,1307.7L879.3,1307.5M892.8,1306.3L895.9,1306.1M909.3,1304.9L912.4,1304.6M925.9,1303.5L928.9,1303.2M942.4,1302.0L945.4,1301.7M959.0,1300.1L961.9,1299.8M975.5,1298.2L978.5,1297.9M992.0,1296.5L995.1,1296.3M1008.5,1295.2L1011.6,1294.9M1025.1,1293.9L1028.1,1293.7M1041.6,1292.5L1044.6,1292.2M1058.1,1291.2L1061.3,1291.1M1074.6,1290.3L1077.7,1290.1M1091.2,1288.9L1094.2,1288.6M1107.8,1287.1L1110.8,1286.8M1124.5,1284.3L1127.1,1283.7M1141.0,1280.2L1143.6,1279.5M1157.5,1276.0L1160.2,1275.4M1174.1,1271.9L1176.7,1271.2M1190.8,1266.2L1193.2,1265.1M1207.3,1260.0L1210.0,1259.2M1440.8,344.1L1443.2,342.9M1457.4,335.8L1459.8,334.7M1473.9,328.3L1476.3,327.3M1490.3,323.0L1493.0,322.5M1506.8,319.8L1509.6,319.3M1523.3,316.8L1526.1,316.2M1539.9,313.7L1542.7,313.2M1556.4,310.7L1559.2,310.2M1572.9,307.7L1575.7,307.2M1589.5,304.8L1592.3,304.3M1606.0,301.8L1608.8,301.3M1622.5,299.0L1625.4,298.5M1639.0,296.3L1641.9,295.9M1655.5,294.1L1658.5,293.7M1672.0,292.1L1675.0,291.8M1688.6,290.3L1691.6,290.0M1705.1,288.7L1708.1,288.4M1721.6,287.0L1724.6,286.7M1738.2,285.3L1741.2,285.0M1754.7,283.7L1757.7,283.4M1771.2,282.0L1774.3,281.7M1787.7,280.5L1790.8,280.2M1804.3,278.9L1807.3,278.7M1820.8,277.5L1823.9,277.3M1837.3,276.2L1840.4,276.0M1853.8,275.0L1857.0,274.8M1870.4,274.0L1873.5,273.8M1886.9,273.1L1890.1,273.0M1903.4,272.4L1906.6,272.3M1919.9,271.8L1923.1,271.6M1936.5,271.1L1939.7,271.0M1953.0,270.5L1956.2,270.4M1969.5,269.9L1972.7,269.8M1986.1,269.4L1989.3,269.3M2002.6,268.9L2005.8,268.8M2019.1,268.4L2022.4,268.3M2035.6,268.0L2038.9,267.9M2052.2,267.7L2055.4,267.6M2068.7,267.4L2072.0,267.4M2085.2,267.2L2088.5,267.2M2101.7,267.1L2105.1,267.1" fill="none" stroke="#0000ff" stroke-width="2.0"/>
<path d="M1409.9,341.3L1407.5,342.9M1393.3,354.7L1390.7,357.3M1244.1,1202.4L1239.9,1207.4M1226.6,1221.3L1224.1,1223.7M1210.0,1237.5L1207.4,1240.0M1193.2,1251.8L1190.8,1253.4M1176.5,1261.9L1174.3,1263.0M1224.1,1252.9L1226.5,1251.4M1240.7,1240.0L1243.3,1237.5M1255.7,1223.0L1261.7,1214.7M1389.9,389.6L1394.1,384.6M1407.4,370.7L1409.9,368.3M1424.1,355.7L1426.6,353.6" fill="none" stroke="#0000ff" stroke-width="2.6"/>
<path d="M1367.2,396.3L1366.8,397.2M1354.4,428.9L1352.9,433.3M1348.1,449.3L1345.9,457.3M1341.9,473.4L1338.8,487.8M1335.4,504.0L1332.0,521.1M1329.0,537.4L1325.0,561.9M1323.0,578.2L1317.7,639.2M1316.6,655.5L1310.8,769.9M1309.9,786.3L1304.1,899.0M1303.0,915.3L1297.7,977.7M1295.9,994.0L1291.4,1026.8M1288.9,1043.1L1285.1,1065.7M1282.2,1082.0L1278.5,1101.9M1275.1,1118.1L1272.3,1129.7M1268.1,1145.8L1265.9,1153.8M1260.8,1169.8L1259.9,1172.4M1270.2,1199.4L1280.4,1174.4M1285.9,1158.5L1298.1,1114.3M1301.1,1098.1L1316.2,941.3M1317.5,924.9L1323.2,822.7M1324.0,806.3L1330.0,674.5M1331.2,658.2L1336.1,614.3M1338.1,598.0L1342.6,565.2M1345.1,548.9L1348.9,526.3M1351.8,510.0L1355.5,490.1M1358.9,473.9L1361.7,462.3M1365.9,446.2L1368.1,438.2M1373.2,422.2L1374.1,419.6" fill="none" stroke="#0000ff" stroke-width="3.1"/>
<g fill="#0000ff"><rect x="2106.3" y="258.9" width="10.8" height="10.8"/><rect x="2089.7" y="259.3" width="10.8" height="10.8"/><rect x="2073.2" y="259.7" width="10.8" height="10.8"/><rect x="2056.7" y="260.2" width="10.8" height="10.8"/><rect x="2040.1" y="260.6" width="10.8" height="10.8"/><rect x="2023.6" y="261.2" width="10.8" height="10.8"/><rect x="2007.1" y="261.7" width="10.8" height="10.8"/><rect x="1990.5" y="262.3" width="10.8" height="10.8"/><rect x="1974.0" y="262.9" width="10.8" height="10.8"/><rect x="1957.5" y="263.6" width="10.8" height="10.8"/><rect x="1940.9" y="264.2" width="10.8" height="10.8"/><rect x="1924.4" y="264.9" width="10.8" height="10.8"/><rect x="1907.9" y="265.6" width="10.8" height="10.8"/><rect x="1891.3" y="266.3" width="10.8" height="10.8"/><rect x="1874.8" y="267.1" width="10.8" height="10.8"/><rect x="1858.3" y="267.9" width="10.8" height="10.8"/><rect x="1841.7" y="268.7" width="10.8" height="10.8"/><rect x="1825.2" y="269.5" width="10.8" height="10.8"/><rect x="1808.7" y="270.4" width="10.8" height="10.8"/><rect x="1792.1" y="271.4" width="10.8" height="10.8"/><rect x="1775.6" y="272.4" width="10.8" height="10.8"/><rect x="1759.1" y="273.5" width="10.8" height="10.8"/><rect x="1742.5" y="274.6" width="10.8" height="10.8"/><rect x="1726.0" y="275.8" width="10.8" height="10.8"/><rect x="1709.5" y="277.0" width="10.8" height="10.8"/><rect x="1692.9" y="278.4" width="10.8" height="10.8"/><rect x="1676.4" y="280.1" width="10.8" height="10.8"/><rect x="1659.9" y="282.1" width="10.8" height="10.8"/><rect x="1643.3" y="283.9" width="10.8" height="10.8"/><rect x="1626.8" y="285.4" width="10.8" height="10.8"/><rect x="1610.3" y="286.6" width="10.8" height="10.8"/><rect x="1593.7" y="287.9" width="10.8" height="10.8"/><rect x="1577.2" y="289.5" width="10.8" height="10.8"/><rect x="1560.7" y="291.6" width="10.8" height="10.8"/><rect x="1544.1" y="294.3" width="10.8" height="10.8"/><rect x="1527.6" y="297.3" width="10.8" height="10.8"/><rect x="1511.1" y="300.6" width="10.8" height="10.8"/><rect x="1494.5" y="304.6" width="10.8" height="10.8"/><rect x="1478.0" y="309.0" width="10.8" height="10.8"/><rect x="1461.5" y="312.8" width="10.8" height="10.8"/><rect x="1444.9" y="317.3" width="10.8" height="10.8"/><rect x="1428.3" y="324.7" width="10.8" height="10.8"/><rect x="1411.6" y="331.2" width="10.8" height="10.8"/><rect x="1394.9" y="342.3" width="10.8" height="10.8"/><rect x="1378.3" y="359.0" width="10.8" height="10.8"/><rect x="1371.6" y="370.1" width="10.8" height="10.8"/><rect x="1364.9" y="383.1" width="10.8" height="10.8"/><rect x="1358.3" y="399.7" width="10.8" height="10.8"/><rect x="1351.6" y="415.5" width="10.8" height="10.8"/><rect x="1344.9" y="435.8" width="10.8" height="10.8"/><rect x="1338.3" y="459.9" width="10.8" height="10.8"/><rect x="1331.6" y="490.5" width="10.8" height="10.8"/><rect x="1324.9" y="523.8" width="10.8" height="10.8"/><rect x="1318.3" y="564.6" width="10.8" height="10.8"/><rect x="1311.6" y="641.9" width="10.8" height="10.8"/><rect x="1304.9" y="772.7" width="10.8" height="10.8"/><rect x="1298.3" y="901.8" width="10.8" height="10.8"/><rect x="1291.6" y="980.5" width="10.8" height="10.8"/><rect x="1284.9" y="1029.6" width="10.8" height="10.8"/><rect x="1278.3" y="1068.5" width="10.8" height="10.8"/><rect x="1271.6" y="1104.6" width="10.8" height="10.8"/><rect x="1264.9" y="1132.4" width="10.8" height="10.8"/><rect x="1258.3" y="1156.5" width="10.8" height="10.8"/><rect x="1251.6" y="1175.0" width="10.8" height="10.8"/><rect x="1244.9" y="1189.8" width="10.8" height="10.8"/><rect x="1228.3" y="1209.3" width="10.8" height="10.8"/><rect x="1211.6" y="1225.0" width="10.8" height="10.8"/><rect x="1194.9" y="1241.7" width="10.8" height="10.8"/><rect x="1178.3" y="1252.8" width="10.8" height="10.8"/><rect x="1161.7" y="1261.3" width="10.8" height="10.8"/><rect x="1145.2" y="1268.1" width="10.8" height="10.8"/><rect x="1128.7" y="1271.9" width="10.8" height="10.8"/><rect x="1112.1" y="1275.0" width="10.8" height="10.8"/><rect x="1095.6" y="1277.2" width="10.8" height="10.8"/><rect x="1079.1" y="1279.3" width="10.8" height="10.8"/><rect x="1062.5" y="1281.4" width="10.8" height="10.8"/><rect x="1046.0" y="1283.4" width="10.8" height="10.8"/><rect x="1029.5" y="1285.6" width="10.8" height="10.8"/><rect x="1012.9" y="1287.9" width="10.8" height="10.8"/><rect x="996.4" y="1290.0" width="10.8" height="10.8"/><rect x="979.9" y="1291.7" width="10.8" height="10.8"/><rect x="963.3" y="1293.8" width="10.8" height="10.8"/><rect x="946.8" y="1295.6" width="10.8" height="10.8"/><rect x="930.3" y="1297.3" width="10.8" height="10.8"/><rect x="913.7" y="1298.9" width="10.8" height="10.8"/><rect x="897.2" y="1300.6" width="10.8" height="10.8"/><rect x="880.7" y="1302.3" width="10.8" height="10.8"/><rect x="864.1" y="1303.9" width="10.8" height="10.8"/><rect x="847.6" y="1305.5" width="10.8" height="10.8"/><rect x="831.1" y="1307.1" width="10.8" height="10.8"/><rect x="814.5" y="1308.5" width="10.8" height="10.8"/><rect x="798.0" y="1309.9" width="10.8" height="10.8"/><rect x="781.5" y="1311.1" width="10.8" height="10.8"/><rect x="764.9" y="1312.2" width="10.8" height="10.8"/><rect x="748.4" y="1313.2" width="10.8" height="10.8"/><rect x="731.9" y="1313.9" width="10.8" height="10.8"/><rect x="715.3" y="1314.6" width="10.8" height="10.8"/><rect x="698.8" y="1315.2" width="10.8" height="10.8"/><rect x="682.3" y="1315.9" width="10.8" height="10.8"/><rect x="665.7" y="1316.4" width="10.8" height="10.8"/><rect x="649.2" y="1317.0" width="10.8" height="10.8"/><rect x="632.7" y="1317.5" width="10.8" height="10.8"/><rect x="616.1" y="1318.0" width="10.8" height="10.8"/><rect x="599.6" y="1318.4" width="10.8" height="10.8"/><rect x="583.1" y="1318.8" width="10.8" height="10.8"/><rect x="566.5" y="1319.1" width="10.8" height="10.8"/><rect x="550.0" y="1319.3" width="10.8" height="10.8"/><rect x="533.5" y="1319.4" width="10.8" height="10.8"/><rect x="516.9" y="1319.5" width="10.8" height="10.8"/><rect x="516.9" y="1322.3" width="10.8" height="10.8"/><rect x="533.5" y="1321.7" width="10.8" height="10.8"/><rect x="550.0" y="1321.0" width="10.8" height="10.8"/><rect x="566.5" y="1320.3" width="10.8" height="10.8"/><rect x="583.1" y="1319.6" width="10.8" height="10.8"/><rect x="599.6" y="1318.9" width="10.8" height="10.8"/><rect x="616.1" y="1318.1" width="10.8" height="10.8"/><rect x="632.7" y="1317.3" width="10.8" height="10.8"/><rect x="649.2" y="1316.4" width="10.8" height="10.8"/><rect x="665.7" y="1315.6" width="10.8" height="10.8"/><rect x="682.3" y="1314.7" width="10.8" height="10.8"/><rect x="698.8" y="1313.7" width="10.8" height="10.8"/><rect x="715.3" y="1312.8" width="10.8" height="10.8"/><rect x="731.9" y="1311.8" width="10.8" height="10.8"/><rect x="748.4" y="1310.9" width="10.8" height="10.8"/><rect x="764.9" y="1309.9" width="10.8" height="10.8"/><rect x="781.5" y="1308.8" width="10.8" height="10.8"/><rect x="798.0" y="1307.7" width="10.8" height="10.8"/><rect x="814.5" y="1306.6" width="10.8" height="10.8"/><rect x="831.1" y="1305.4" width="10.8" height="10.8"/><rect x="847.6" y="1304.2" width="10.8" height="10.8"/><rect x="864.1" y="1302.9" width="10.8" height="10.8"/><rect x="880.7" y="1301.5" width="10.8" height="10.8"/><rect x="897.2" y="1300.1" width="10.8" height="10.8"/><rect x="913.7" y="1298.6" width="10.8" height="10.8"/><rect x="930.3" y="1297.3" width="10.8" height="10.8"/><rect x="946.8" y="1295.6" width="10.8" height="10.8"/><rect x="963.3" y="1293.5" width="10.8" height="10.8"/><rect x="979.9" y="1291.7" width="10.8" height="10.8"/><rect x="996.4" y="1290.3" width="10.8" height="10.8"/><rect x="1012.9" y="1289.0" width="10.8" height="10.8"/><rect x="1029.5" y="1287.8" width="10.8" height="10.8"/><rect x="1046.0" y="1286.1" width="10.8" height="10.8"/><rect x="1062.5" y="1285.4" width="10.8" height="10.8"/><rect x="1079.1" y="1284.1" width="10.8" height="10.8"/><rect x="1095.6" y="1282.5" width="10.8" height="10.8"/><rect x="1112.1" y="1280.6" width="10.8" height="10.8"/><rect x="1128.7" y="1276.6" width="10.8" height="10.8"/><rect x="1145.2" y="1272.2" width="10.8" height="10.8"/><rect x="1161.7" y="1268.4" width="10.8" height="10.8"/><rect x="1178.3" y="1263.9" width="10.8" height="10.8"/><rect x="1194.9" y="1256.5" width="10.8" height="10.8"/><rect x="1211.6" y="1251.9" width="10.8" height="10.8"/><rect x="1228.3" y="1241.7" width="10.8" height="10.8"/><rect x="1244.9" y="1225.0" width="10.8" height="10.8"/><rect x="1261.6" y="1201.9" width="10.8" height="10.8"/><rect x="1278.3" y="1161.1" width="10.8" height="10.8"/><rect x="1294.9" y="1100.9" width="10.8" height="10.8"/><rect x="1311.6" y="927.7" width="10.8" height="10.8"/><rect x="1318.3" y="809.1" width="10.8" height="10.8"/><rect x="1324.9" y="660.9" width="10.8" height="10.8"/><rect x="1331.6" y="600.7" width="10.8" height="10.8"/><rect x="1338.3" y="551.6" width="10.8" height="10.8"/><rect x="1344.9" y="512.7" width="10.8" height="10.8"/><rect x="1351.6" y="476.6" width="10.8" height="10.8"/><rect x="1358.3" y="448.8" width="10.8" height="10.8"/><rect x="1364.9" y="424.7" width="10.8" height="10.8"/><rect x="1371.6" y="406.2" width="10.8" height="10.8"/><rect x="1378.3" y="391.4" width="10.8" height="10.8"/><rect x="1394.9" y="371.9" width="10.8" height="10.8"/><rect x="1411.6" y="356.2" width="10.8" height="10.8"/><rect x="1428.3" y="342.3" width="10.8" height="10.8"/><rect x="1444.9" y="334.0" width="10.8" height="10.8"/><rect x="1461.5" y="325.7" width="10.8" height="10.8"/><rect x="1478.0" y="319.1" width="10.8" height="10.8"/><rect x="1494.5" y="315.6" width="10.8" height="10.8"/><rect x="1511.1" y="312.7" width="10.8" height="10.8"/><rect x="1527.6" y="309.6" width="10.8" height="10.8"/><rect x="1544.1" y="306.5" width="10.8" height="10.8"/><rect x="1560.7" y="303.5" width="10.8" height="10.8"/><rect x="1577.2" y="300.6" width="10.8" height="10.8"/><rect x="1593.7" y="297.7" width="10.8" height="10.8"/><rect x="1610.3" y="294.7" width="10.8" height="10.8"/><rect x="1626.8" y="291.9" width="10.8" height="10.8"/><rect x="1643.3" y="289.5" width="10.8" height="10.8"/><rect x="1659.9" y="287.4" width="10.8" height="10.8"/><rect x="1676.4" y="285.6" width="10.8" height="10.8"/><rect x="1692.9" y="283.9" width="10.8" height="10.8"/><rect x="1709.5" y="282.3" width="10.8" height="10.8"/><rect x="1726.0" y="280.6" width="10.8" height="10.8"/><rect x="1742.5" y="278.9" width="10.8" height="10.8"/><rect x="1759.1" y="277.3" width="10.8" height="10.8"/><rect x="1775.6" y="275.7" width="10.8" height="10.8"/><rect x="1792.1" y="274.1" width="10.8" height="10.8"/><rect x="1808.7" y="272.7" width="10.8" height="10.8"/><rect x="1825.2" y="271.3" width="10.8" height="10.8"/><rect x="1841.7" y="270.1" width="10.8" height="10.8"/><rect x="1858.3" y="269.0" width="10.8" height="10.8"/><rect x="1874.8" y="268.0" width="10.8" height="10.8"/><rect x="1891.3" y="267.3" width="10.8" height="10.8"/><rect x="1907.9" y="266.6" width="10.8" height="10.8"/><rect x="1924.4" y="266.0" width="10.8" height="10.8"/><rect x="1940.9" y="265.3" width="10.8" height="10.8"/><rect x="1957.5" y="264.8" width="10.8" height="10.8"/><rect x="1974.0" y="264.2" width="10.8" height="10.8"/><rect x="1990.5" y="263.7" width="10.8" height="10.8"/><rect x="2007.1" y="263.2" width="10.8" height="10.8"/><rect x="2023.6" y="262.8" width="10.8" height="10.8"/><rect x="2040.1" y="262.4" width="10.8" height="10.8"/><rect x="2056.7" y="262.1" width="10.8" height="10.8"/><rect x="2073.2" y="261.9" width="10.8" height="10.8"/><rect x="2089.7" y="261.8" width="10.8" height="10.8"/><rect x="2106.3" y="261.7" width="10.8" height="10.8"/></g>
<g>
<defs><clipPath id="ic"><rect x="1406" y="805" width="848" height="598"/></clipPath></defs>
<rect x="1372" y="801" width="886" height="4" fill="#000"/>
<rect x="1371" y="1403" width="887" height="4" fill="#000"/>
<rect x="1402" y="801" width="4" height="606" fill="#000"/>
<rect x="2254" y="801" width="4" height="606" fill="#000"/>
<rect x="1392" y="1342.0" width="12" height="4" fill="#000"/>
<rect x="1397" y="1282.0" width="7" height="4" fill="#000"/>
<rect x="1392" y="1222.0" width="12" height="4" fill="#000"/>
<rect x="1397" y="1162.0" width="7" height="4" fill="#000"/>
<rect x="1392" y="1102.0" width="12" height="4" fill="#000"/>
<rect x="1397" y="1042.0" width="7" height="4" fill="#000"/>
<rect x="1392" y="982.0" width="12" height="4" fill="#000"/>
<rect x="1397" y="922.0" width="7" height="4" fill="#000"/>
<rect x="1392" y="862.0" width="12" height="4" fill="#000"/>
<rect x="1370.7" y="1405" width="4" height="12" fill="#000"/>
<rect x="1481.0" y="1405" width="4" height="7" fill="#000"/>
<rect x="1591.3" y="1405" width="4" height="12" fill="#000"/>
<rect x="1701.7" y="1405" width="4" height="7" fill="#000"/>
<rect x="1812.0" y="1405" width="4" height="12" fill="#000"/>
<rect x="1922.3" y="1405" width="4" height="7" fill="#000"/>
<rect x="2032.7" y="1405" width="4" height="12" fill="#000"/>
<rect x="2143.0" y="1405" width="4" height="7" fill="#000"/>
<rect x="2253.3" y="1405" width="4" height="12" fill="#000"/>
<g clip-path="url(#ic)">
<path d="M2255.3,481.5 L2211.2,501.0 L2167.0,526.5 L2122.9,556.5 L2078.8,594.0 L2034.7,639.0 L1990.5,691.5 L1946.4,751.5 L1902.3,816.0 L1858.1,891.0 L1814.0,984.8 L1769.9,1076.2 L1725.7,1164.0 L1681.6,1252.5 L1637.5,1332.0 L1593.3,1411.5 L1549.2,1480.5 L1505.1,1531.5 L1461.0,1579.5 L1416.8,1620.0 L1372.7,1654.5 L1372.7,1716.0 L1483.0,1671.0 L1593.3,1594.5 L1703.7,1470.0 L1814.0,1260.0 L1858.1,1140.8 L1902.3,1044.6 L1946.4,952.5 L1990.5,868.5 L2034.7,796.5 L2078.8,727.5 L2122.9,676.5 L2167.0,628.5 L2211.2,588.0 L2255.3,553.5" fill="none" stroke="#000000" stroke-width="1.4"/>
<g fill="#000000"><rect x="2253.0" y="479.2" width="4.6" height="4.6"/><rect x="2208.9" y="498.7" width="4.6" height="4.6"/><rect x="2164.7" y="524.2" width="4.6" height="4.6"/><rect x="2120.6" y="554.2" width="4.6" height="4.6"/><rect x="2076.5" y="591.7" width="4.6" height="4.6"/><rect x="2032.4" y="636.7" width="4.6" height="4.6"/><rect x="1988.2" y="689.2" width="4.6" height="4.6"/><rect x="1944.1" y="749.2" width="4.6" height="4.6"/><rect x="1900.0" y="813.7" width="4.6" height="4.6"/><rect x="1855.8" y="888.7" width="4.6" height="4.6"/><rect x="1811.7" y="982.5" width="4.6" height="4.6"/><rect x="1767.6" y="1074.0" width="4.6" height="4.6"/><rect x="1723.4" y="1161.7" width="4.6" height="4.6"/><rect x="1679.3" y="1250.2" width="4.6" height="4.6"/><rect x="1635.2" y="1329.7" width="4.6" height="4.6"/><rect x="1591.0" y="1409.2" width="4.6" height="4.6"/><rect x="1546.9" y="1478.2" width="4.6" height="4.6"/><rect x="1502.8" y="1529.2" width="4.6" height="4.6"/><rect x="1458.7" y="1577.2" width="4.6" height="4.6"/><rect x="1414.5" y="1617.7" width="4.6" height="4.6"/><rect x="1370.4" y="1652.2" width="4.6" height="4.6"/><rect x="1370.4" y="1713.7" width="4.6" height="4.6"/><rect x="1480.7" y="1668.7" width="4.6" height="4.6"/><rect x="1591.0" y="1592.2" width="4.6" height="4.6"/><rect x="1701.4" y="1467.7" width="4.6" height="4.6"/><rect x="1811.7" y="1257.7" width="4.6" height="4.6"/><rect x="1855.8" y="1138.5" width="4.6" height="4.6"/><rect x="1900.0" y="1042.3" width="4.6" height="4.6"/><rect x="1944.1" y="950.2" width="4.6" height="4.6"/><rect x="1988.2" y="866.2" width="4.6" height="4.6"/><rect x="2032.4" y="794.2" width="4.6" height="4.6"/><rect x="2076.5" y="725.2" width="4.6" height="4.6"/><rect x="2120.6" y="674.2" width="4.6" height="4.6"/><rect x="2164.7" y="626.2" width="4.6" height="4.6"/><rect x="2208.9" y="585.7" width="4.6" height="4.6"/><rect x="2253.0" y="551.2" width="4.6" height="4.6"/></g>
<path d="M2255.3,433.5 L2211.2,456.0 L2167.0,481.5 L2122.9,511.5 L2078.8,549.0 L2034.7,594.0 L1990.5,646.5 L1946.4,706.5 L1902.3,777.0 L1858.1,867.8 L1814.0,976.5 L1769.9,1072.5 L1725.7,1173.5 L1681.6,1272.0 L1637.5,1360.5 L1593.3,1446.0 L1549.2,1513.5 L1505.1,1572.0 L1461.0,1621.5 L1416.8,1663.5 L1372.7,1696.5 L1372.7,1756.5 L1483.0,1707.0 L1593.3,1629.0 L1703.7,1504.5 L1814.0,1276.5 L1858.1,1144.5 L1902.3,1035.0 L1946.4,933.0 L1990.5,843.0 L2034.7,762.0 L2078.8,694.5 L2122.9,636.0 L2167.0,586.5 L2211.2,544.5 L2255.3,511.5" fill="none" stroke="#00ff00" stroke-width="1.4"/>
<g fill="#00ff00"><rect x="2253.0" y="431.2" width="4.6" height="4.6"/><rect x="2208.9" y="453.7" width="4.6" height="4.6"/><rect x="2164.7" y="479.2" width="4.6" height="4.6"/><rect x="2120.6" y="509.2" width="4.6" height="4.6"/><rect x="2076.5" y="546.7" width="4.6" height="4.6"/><rect x="2032.4" y="591.7" width="4.6" height="4.6"/><rect x="1988.2" y="644.2" width="4.6" height="4.6"/><rect x="1944.1" y="704.2" width="4.6" height="4.6"/><rect x="1900.0" y="774.7" width="4.6" height="4.6"/><rect x="1855.8" y="865.5" width="4.6" height="4.6"/><rect x="1811.7" y="974.2" width="4.6" height="4.6"/><rect x="1767.6" y="1070.2" width="4.6" height="4.6"/><rect x="1723.4" y="1171.2" width="4.6" height="4.6"/><rect x="1679.3" y="1269.7" width="4.6" height="4.6"/><rect x="1635.2" y="1358.2" width="4.6" height="4.6"/><rect x="1591.0" y="1443.7" width="4.6" height="4.6"/><rect x="1546.9" y="1511.2" width="4.6" height="4.6"/><rect x="1502.8" y="1569.7" width="4.6" height="4.6"/><rect x="1458.7" y="1619.2" width="4.6" height="4.6"/><rect x="1414.5" y="1661.2" width="4.6" height="4.6"/><rect x="1370.4" y="1694.2" width="4.6" height="4.6"/><rect x="1370.4" y="1754.2" width="4.6" height="4.6"/><rect x="1480.7" y="1704.7" width="4.6" height="4.6"/><rect x="1591.0" y="1626.7" width="4.6" height="4.6"/><rect x="1701.4" y="1502.2" width="4.6" height="4.6"/><rect x="1811.7" y="1274.2" width="4.6" height="4.6"/><rect x="1855.8" y="1142.2" width="4.6" height="4.6"/><rect x="1900.0" y="1032.7" width="4.6" height="4.6"/><rect x="1944.1" y="930.7" width="4.6" height="4.6"/><rect x="1988.2" y="840.7" width="4.6" height="4.6"/><rect x="2032.4" y="759.7" width="4.6" height="4.6"/><rect x="2076.5" y="692.2" width="4.6" height="4.6"/><rect x="2120.6" y="633.7" width="4.6" height="4.6"/><rect x="2164.7" y="584.2" width="4.6" height="4.6"/><rect x="2208.9" y="542.2" width="4.6" height="4.6"/><rect x="2253.0" y="509.2" width="4.6" height="4.6"/></g>
<path d="M2255.3,412.5 L2211.2,436.5 L2167.0,465.0 L2122.9,496.5 L2078.8,534.0 L2034.7,579.0 L1990.5,631.5 L1946.4,691.5 L1902.3,763.5 L1858.1,846.0 L1814.0,965.2 L1769.9,1068.5 L1725.7,1180.3 L1681.6,1287.0 L1637.5,1381.5 L1593.3,1470.0 L1549.2,1537.5 L1505.1,1596.0 L1461.0,1647.0 L1416.8,1689.0 L1372.7,1719.0 L1372.7,1783.5 L1483.0,1735.5 L1593.3,1654.5 L1703.7,1528.5 L1814.0,1287.0 L1858.1,1147.5 L1902.3,1026.0 L1946.4,916.5 L1990.5,819.0 L2034.7,738.0 L2078.8,670.5 L2122.9,612.0 L2167.0,561.0 L2211.2,519.0 L2255.3,489.0" fill="none" stroke="#ff0000" stroke-width="1.4"/>
<g fill="#ff0000"><rect x="2253.0" y="410.2" width="4.6" height="4.6"/><rect x="2208.9" y="434.2" width="4.6" height="4.6"/><rect x="2164.7" y="462.7" width="4.6" height="4.6"/><rect x="2120.6" y="494.2" width="4.6" height="4.6"/><rect x="2076.5" y="531.7" width="4.6" height="4.6"/><rect x="2032.4" y="576.7" width="4.6" height="4.6"/><rect x="1988.2" y="629.2" width="4.6" height="4.6"/><rect x="1944.1" y="689.2" width="4.6" height="4.6"/><rect x="1900.0" y="761.2" width="4.6" height="4.6"/><rect x="1855.8" y="843.7" width="4.6" height="4.6"/><rect x="1811.7" y="963.0" width="4.6" height="4.6"/><rect x="1767.6" y="1066.2" width="4.6" height="4.6"/><rect x="1723.4" y="1178.0" width="4.6" height="4.6"/><rect x="1679.3" y="1284.7" width="4.6" height="4.6"/><rect x="1635.2" y="1379.2" width="4.6" height="4.6"/><rect x="1591.0" y="1467.7" width="4.6" height="4.6"/><rect x="1546.9" y="1535.2" width="4.6" height="4.6"/><rect x="1502.8" y="1593.7" width="4.6" height="4.6"/><rect x="1458.7" y="1644.7" width="4.6" height="4.6"/><rect x="1414.5" y="1686.7" width="4.6" height="4.6"/><rect x="1370.4" y="1716.7" width="4.6" height="4.6"/><rect x="1370.4" y="1781.2" width="4.6" height="4.6"/><rect x="1480.7" y="1733.2" width="4.6" height="4.6"/><rect x="1591.0" y="1652.2" width="4.6" height="4.6"/><rect x="1701.4" y="1526.2" width="4.6" height="4.6"/><rect x="1811.7" y="1284.7" width="4.6" height="4.6"/><rect x="1855.8" y="1145.2" width="4.6" height="4.6"/><rect x="1900.0" y="1023.7" width="4.6" height="4.6"/><rect x="1944.1" y="914.2" width="4.6" height="4.6"/><rect x="1988.2" y="816.7" width="4.6" height="4.6"/><rect x="2032.4" y="735.7" width="4.6" height="4.6"/><rect x="2076.5" y="668.2" width="4.6" height="4.6"/><rect x="2120.6" y="609.7" width="4.6" height="4.6"/><rect x="2164.7" y="558.7" width="4.6" height="4.6"/><rect x="2208.9" y="516.7" width="4.6" height="4.6"/><rect x="2253.0" y="486.7" width="4.6" height="4.6"/></g>
<path d="M2255.3,405.0 L2211.2,423.0 L2167.0,444.0 L2122.9,471.0 L2078.8,496.5 L2034.7,529.5 L1990.5,568.5 L1946.4,618.0 L1902.3,672.0 L1858.1,738.0 L1814.0,863.2 L1769.9,1075.0 L1725.7,1284.0 L1681.6,1411.5 L1637.5,1491.0 L1593.3,1554.0 L1549.2,1612.5 L1505.1,1657.5 L1461.0,1696.5 L1416.8,1726.5 L1372.7,1750.5 L1372.7,1807.5 L1483.0,1770.0 L1593.3,1704.0 L1703.7,1606.5 L1814.0,1326.0 L1858.1,1134.0 L1902.3,894.0 L1946.4,796.5 L1990.5,717.0 L2034.7,654.0 L2078.8,595.5 L2122.9,550.5 L2167.0,511.5 L2211.2,481.5 L2255.3,457.5" fill="none" stroke="#0000ff" stroke-width="1.4"/>
<g fill="#0000ff"><rect x="2253.0" y="402.7" width="4.6" height="4.6"/><rect x="2208.9" y="420.7" width="4.6" height="4.6"/><rect x="2164.7" y="441.7" width="4.6" height="4.6"/><rect x="2120.6" y="468.7" width="4.6" height="4.6"/><rect x="2076.5" y="494.2" width="4.6" height="4.6"/><rect x="2032.4" y="527.2" width="4.6" height="4.6"/><rect x="1988.2" y="566.2" width="4.6" height="4.6"/><rect x="1944.1" y="615.7" width="4.6" height="4.6"/><rect x="1900.0" y="669.7" width="4.6" height="4.6"/><rect x="1855.8" y="735.7" width="4.6" height="4.6"/><rect x="1811.7" y="861.0" width="4.6" height="4.6"/><rect x="1767.6" y="1072.8" width="4.6" height="4.6"/><rect x="1723.4" y="1281.7" width="4.6" height="4.6"/><rect x="1679.3" y="1409.2" width="4.6" height="4.6"/><rect x="1635.2" y="1488.7" width="4.6" height="4.6"/><rect x="1591.0" y="1551.7" width="4.6" height="4.6"/><rect x="1546.9" y="1610.2" width="4.6" height="4.6"/><rect x="1502.8" y="1655.2" width="4.6" height="4.6"/><rect x="1458.7" y="1694.2" width="4.6" height="4.6"/><rect x="1414.5" y="1724.2" width="4.6" height="4.6"/><rect x="1370.4" y="1748.2" width="4.6" height="4.6"/><rect x="1370.4" y="1805.2" width="4.6" height="4.6"/><rect x="1480.7" y="1767.7" width="4.6" height="4.6"/><rect x="1591.0" y="1701.7" width="4.6" height="4.6"/><rect x="1701.4" y="1604.2" width="4.6" height="4.6"/><rect x="1811.7" y="1323.7" width="4.6" height="4.6"/><rect x="1855.8" y="1131.7" width="4.6" height="4.6"/><rect x="1900.0" y="891.7" width="4.6" height="4.6"/><rect x="1944.1" y="794.2" width="4.6" height="4.6"/><rect x="1988.2" y="714.7" width="4.6" height="4.6"/><rect x="2032.4" y="651.7" width="4.6" height="4.6"/><rect x="2076.5" y="593.2" width="4.6" height="4.6"/><rect x="2120.6" y="548.2" width="4.6" height="4.6"/><rect x="2164.7" y="509.2" width="4.6" height="4.6"/><rect x="2208.9" y="479.2" width="4.6" height="4.6"/><rect x="2253.0" y="455.2" width="4.6" height="4.6"/></g>
</g>
<rect x="1812" y="803" width="4" height="602" fill="#000"/>
<rect x="1372" y="1102" width="884" height="4" fill="#000"/>
</g>
<text transform="translate(185.59,1560.00) scale(0.9420,1)" font-size="77.70" font-weight="bold">80</text>
<text transform="translate(143.16,1567.56) scale(0.9828,1)" font-size="77.46" font-weight="normal">&#8722;</text>
<text transform="translate(185.59,1374.75) scale(0.9420,1)" font-size="77.70" font-weight="bold">60</text>
<text transform="translate(143.16,1382.31) scale(0.9828,1)" font-size="77.46" font-weight="normal">&#8722;</text>
<text transform="translate(185.59,1189.50) scale(0.9420,1)" font-size="77.70" font-weight="bold">40</text>
<text transform="translate(143.16,1197.06) scale(0.9828,1)" font-size="77.46" font-weight="normal">&#8722;</text>
<text transform="translate(185.59,1004.25) scale(0.9420,1)" font-size="77.70" font-weight="bold">20</text>
<text transform="translate(143.16,1011.81) scale(0.9828,1)" font-size="77.46" font-weight="normal">&#8722;</text>
<text transform="translate(226.30,819.00) scale(0.9420,1)" font-size="77.70" font-weight="bold">0</text>
<text transform="translate(183.86,826.56) scale(0.9828,1)" font-size="77.46" font-weight="normal">&#8722;</text>
<text transform="translate(185.59,633.75) scale(0.9420,1)" font-size="77.70" font-weight="bold">20</text>
<text transform="translate(143.16,641.31) scale(0.9828,1)" font-size="77.46" font-weight="normal">&#8722;</text>
<text transform="translate(185.59,448.50) scale(0.9420,1)" font-size="77.70" font-weight="bold">40</text>
<text transform="translate(143.16,456.06) scale(0.9828,1)" font-size="77.46" font-weight="normal">&#8722;</text>
<text transform="translate(185.59,263.25) scale(0.9420,1)" font-size="77.70" font-weight="bold">60</text>
<text transform="translate(143.16,270.81) scale(0.9828,1)" font-size="77.46" font-weight="normal">&#8722;</text>
<text transform="translate(185.59,78.00) scale(0.9420,1)" font-size="77.70" font-weight="bold">80</text>
<text transform="translate(143.16,85.56) scale(0.9828,1)" font-size="77.46" font-weight="normal">&#8722;</text>
<text transform="translate(252.18,1651.62) scale(1.0811,1)" font-size="70.42" font-weight="normal">&#8722;</text>
<text transform="translate(295.71,1645.3) scale(0.942,1)" font-size="77.7" font-weight="bold">15</text>
<text transform="translate(585.99,1651.62) scale(1.0811,1)" font-size="70.42" font-weight="normal">&#8722;</text>
<text transform="translate(629.52,1645.3) scale(0.942,1)" font-size="77.7" font-weight="bold">10</text>
<text transform="translate(939.20,1651.62) scale(1.0811,1)" font-size="70.42" font-weight="normal">&#8722;</text>
<text transform="translate(982.73,1645.3) scale(0.942,1)" font-size="77.7" font-weight="bold">5</text>
<text transform="translate(1273.02,1651.62) scale(1.0811,1)" font-size="70.42" font-weight="normal">&#8722;</text>
<text transform="translate(1316.55,1645.3) scale(0.942,1)" font-size="77.7" font-weight="bold">0</text>
<text transform="translate(1605.87,1651.62) scale(1.0811,1)" font-size="70.42" font-weight="normal">&#8722;</text>
<text transform="translate(1649.40,1645.3) scale(0.942,1)" font-size="77.7" font-weight="bold">5</text>
<text transform="translate(1919.33,1651.62) scale(1.0811,1)" font-size="70.42" font-weight="normal">&#8722;</text>
<text transform="translate(1962.86,1645.3) scale(0.942,1)" font-size="77.7" font-weight="bold">10</text>
<text transform="translate(2252.19,1651.62) scale(1.0811,1)" font-size="70.42" font-weight="normal">&#8722;</text>
<text transform="translate(2295.72,1645.3) scale(0.942,1)" font-size="77.7" font-weight="bold">15</text>
<text transform="translate(950.49,1777.00) scale(0.9486,1)" font-size="78.90" font-weight="bold">Magnetic Field (kOe)</text>
<text transform="translate(93.2,1252.14) rotate(-90) scale(0.9545,1)" font-size="80.5" font-weight="bold">Magnetization (emu/g)</text>
<rect x="391" y="129.9" width="159" height="3" fill="#000000"/>
<rect x="465" y="125.9" width="11" height="11" fill="#000000"/>
<text transform="translate(569.08,155.10) scale(0.9490,1)" font-size="72.70" font-weight="bold">LSM5</text>
<rect x="391" y="217.0" width="159" height="3" fill="#00ff00"/>
<rect x="465" y="213.0" width="11" height="11" fill="#00ff00"/>
<text transform="translate(569.08,243.00) scale(0.9490,1)" font-size="72.70" font-weight="bold">LSM10</text>
<rect x="391" y="304.7" width="159" height="3" fill="#ff0000"/>
<rect x="465" y="300.7" width="11" height="11" fill="#ff0000"/>
<text transform="translate(569.08,329.70) scale(0.9490,1)" font-size="72.70" font-weight="bold">LSM20</text>
<rect x="391" y="392.0" width="159" height="3" fill="#0000ff"/>
<rect x="465" y="388.0" width="11" height="11" fill="#0000ff"/>
<text transform="translate(569.08,418.00) scale(0.9490,1)" font-size="72.70" font-weight="bold">LSM30</text>
<text transform="translate(1336.68,1356.00) scale(0.9800,1)" font-size="44.20" font-weight="bold">16</text>
<text transform="translate(1311.97,1358.51) scale(1.1479,1)" font-size="39.44" font-weight="normal">&#8722;</text>
<text transform="translate(1360.54,1236.00) scale(0.9800,1)" font-size="44.20" font-weight="bold">8</text>
<text transform="translate(1335.82,1238.51) scale(1.1479,1)" font-size="39.44" font-weight="normal">&#8722;</text>
<text transform="translate(1360.99,1116.00) scale(0.9800,1)" font-size="44.20" font-weight="bold">0</text>
<text transform="translate(1336.27,1118.51) scale(1.1479,1)" font-size="39.44" font-weight="normal">&#8722;</text>
<text transform="translate(1360.54,996.00) scale(0.9800,1)" font-size="44.20" font-weight="bold">8</text>
<text transform="translate(1335.82,998.51) scale(1.1479,1)" font-size="39.44" font-weight="normal">&#8722;</text>
<text transform="translate(1336.68,876.00) scale(0.9800,1)" font-size="44.20" font-weight="bold">16</text>
<text transform="translate(1311.97,878.51) scale(1.1479,1)" font-size="39.44" font-weight="normal">&#8722;</text>
<text transform="translate(1310.79,1462.89) scale(0.8765,1)" font-size="49.30" font-weight="normal">&#8722;</text>
<text transform="translate(1335.91,1457.0) scale(0.98,1)" font-size="44.2" font-weight="bold">1000</text>
<text transform="translate(1543.49,1462.89) scale(0.8765,1)" font-size="49.30" font-weight="normal">&#8722;</text>
<text transform="translate(1568.60,1457.0) scale(0.98,1)" font-size="44.2" font-weight="bold">500</text>
<text transform="translate(1788.23,1462.89) scale(0.8765,1)" font-size="49.30" font-weight="normal">&#8722;</text>
<text transform="translate(1813.34,1457.0) scale(0.98,1)" font-size="44.2" font-weight="bold">0</text>
<text transform="translate(1984.79,1462.89) scale(0.8765,1)" font-size="49.30" font-weight="normal">&#8722;</text>
<text transform="translate(2009.90,1457.0) scale(0.98,1)" font-size="44.2" font-weight="bold">500</text>
<text transform="translate(2193.39,1462.89) scale(0.8765,1)" font-size="49.30" font-weight="normal">&#8722;</text>
<text transform="translate(2218.51,1457.0) scale(0.98,1)" font-size="44.2" font-weight="bold">1000</text>
<text transform="translate(1600.47,1516.00) scale(0.9614,1)" font-size="51.80" font-weight="bold">Magnetic Field (kOe)</text>
</svg>
</body></html>
